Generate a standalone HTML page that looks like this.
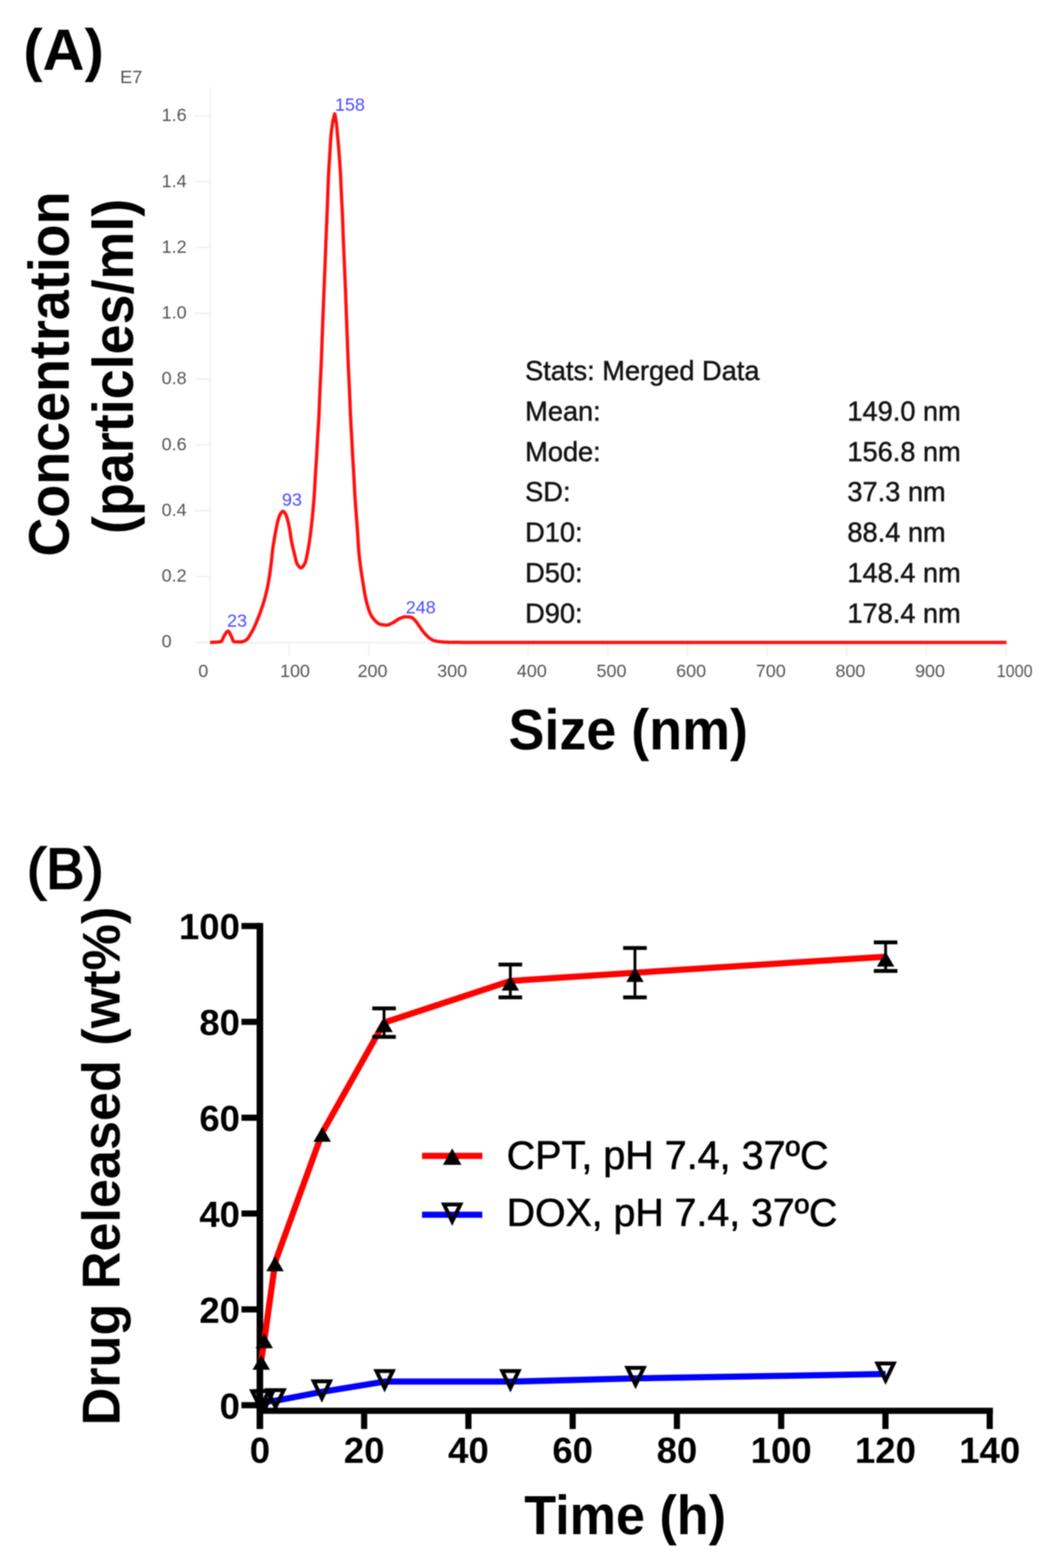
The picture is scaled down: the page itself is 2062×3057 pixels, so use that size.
<!DOCTYPE html>
<html><head><meta charset="utf-8"><title>Figure</title>
<style>
html,body{margin:0;padding:0;background:#fff;}
body{width:2062px;height:3057px;overflow:hidden;}
svg{display:block;filter:blur(1.2px);}
</style></head>
<body>
<svg width="2062" height="3057" viewBox="0 0 2062 3057">
<rect width="2062" height="3057" fill="#fff"/>
<g fill="none" stroke="#f3f3f3" stroke-width="3.5">
<line x1="410" y1="169" x2="410" y2="1280"/>
<line x1="380" y1="1252.0" x2="410" y2="1252.0"/>
<line x1="380" y1="1123.8" x2="410" y2="1123.8"/>
<line x1="380" y1="995.5" x2="410" y2="995.5"/>
<line x1="380" y1="867.2" x2="410" y2="867.2"/>
<line x1="380" y1="739.0" x2="410" y2="739.0"/>
<line x1="380" y1="610.8" x2="410" y2="610.8"/>
<line x1="380" y1="482.5" x2="410" y2="482.5"/>
<line x1="380" y1="354.2" x2="410" y2="354.2"/>
<line x1="380" y1="226.0" x2="410" y2="226.0"/>
<line x1="380" y1="1253" x2="1962" y2="1253"/>
<line x1="563.7" y1="1253" x2="563.7" y2="1279"/>
<line x1="718.9" y1="1253" x2="718.9" y2="1279"/>
<line x1="874.1" y1="1253" x2="874.1" y2="1279"/>
<line x1="1029.3" y1="1253" x2="1029.3" y2="1279"/>
<line x1="1184.6" y1="1253" x2="1184.6" y2="1279"/>
<line x1="1339.8" y1="1253" x2="1339.8" y2="1279"/>
<line x1="1495.0" y1="1253" x2="1495.0" y2="1279"/>
<line x1="1650.2" y1="1253" x2="1650.2" y2="1279"/>
<line x1="1805.4" y1="1253" x2="1805.4" y2="1279"/>
<line x1="1960.6" y1="1253" x2="1960.6" y2="1279"/>
</g>
<g font-family="Liberation Sans, Arial, sans-serif" font-size="35" fill="#555">
<text x="315" y="1262.3">0</text>
<text x="315" y="1134.0">0.2</text>
<text x="315" y="1005.8">0.4</text>
<text x="315" y="877.5">0.6</text>
<text x="315" y="749.3">0.8</text>
<text x="315" y="621.0">1.0</text>
<text x="315" y="492.8">1.2</text>
<text x="315" y="364.5">1.4</text>
<text x="315" y="236.3">1.6</text>
<text x="386.5" y="1320">0</text>
<text x="545.7" y="1320">100</text>
<text x="696.9" y="1320">200</text>
<text x="852.1" y="1320">300</text>
<text x="1007.3" y="1320">400</text>
<text x="1162.6" y="1320">500</text>
<text x="1317.8" y="1320">600</text>
<text x="1473.0" y="1320">700</text>
<text x="1628.2" y="1320">800</text>
<text x="1783.4" y="1320">900</text>
<text x="1942.6" y="1320" textLength="70" lengthAdjust="spacingAndGlyphs">1000</text>
<text x="234" y="162" font-size="35.5">E7</text>
</g>
<path d="M409.50,1252.40 L409.75,1252.40 L410.00,1252.40 L410.25,1252.40 L410.50,1252.39 L410.75,1252.39 L411.00,1252.39 L411.25,1252.38 L411.50,1252.38 L411.75,1252.37 L412.00,1252.37 L412.25,1252.36 L412.50,1252.35 L412.75,1252.35 L413.00,1252.34 L413.25,1252.33 L413.50,1252.32 L413.75,1252.31 L414.00,1252.30 L414.25,1252.29 L414.50,1252.28 L414.75,1252.27 L415.00,1252.26 L415.25,1252.25 L415.50,1252.24 L415.75,1252.23 L416.00,1252.22 L416.25,1252.20 L416.50,1252.19 L416.75,1252.18 L417.00,1252.17 L417.25,1252.15 L417.50,1252.14 L417.75,1252.13 L418.00,1252.11 L418.25,1252.10 L418.50,1252.08 L418.75,1252.07 L419.00,1252.06 L419.25,1252.04 L419.50,1252.03 L419.75,1252.01 L420.00,1252.00 L420.25,1251.99 L420.50,1251.97 L420.75,1251.96 L421.00,1251.94 L421.25,1251.93 L421.50,1251.91 L421.75,1251.90 L422.00,1251.88 L422.25,1251.87 L422.50,1251.85 L422.75,1251.83 L423.00,1251.82 L423.25,1251.80 L423.50,1251.78 L423.75,1251.76 L424.00,1251.74 L424.25,1251.72 L424.50,1251.70 L424.75,1251.68 L425.00,1251.65 L425.25,1251.63 L425.50,1251.61 L425.75,1251.58 L426.00,1251.55 L426.25,1251.52 L426.50,1251.49 L426.75,1251.46 L427.00,1251.43 L427.25,1251.40 L427.50,1251.36 L427.75,1251.33 L428.00,1251.29 L428.25,1251.25 L428.50,1251.21 L428.75,1251.17 L429.00,1251.12 L429.25,1251.08 L429.50,1251.03 L429.75,1250.98 L430.00,1250.93 L430.25,1250.88 L430.50,1250.82 L430.75,1250.75 L431.00,1250.63 L431.25,1250.45 L431.50,1250.22 L431.75,1249.94 L432.00,1249.61 L432.25,1249.25 L432.50,1248.84 L432.75,1248.40 L433.00,1247.94 L433.25,1247.44 L433.50,1246.92 L433.75,1246.39 L434.00,1245.83 L434.25,1245.27 L434.50,1244.70 L434.75,1244.12 L435.00,1243.55 L435.25,1242.98 L435.50,1242.41 L435.75,1241.86 L436.00,1241.32 L436.25,1240.80 L436.50,1240.30 L436.75,1239.83 L437.00,1239.38 L437.25,1238.97 L437.50,1238.60 L437.75,1238.24 L438.00,1237.87 L438.25,1237.49 L438.50,1237.11 L438.75,1236.72 L439.00,1236.32 L439.25,1235.93 L439.50,1235.53 L439.75,1235.14 L440.00,1234.75 L440.25,1234.36 L440.50,1233.99 L440.75,1233.62 L441.00,1233.26 L441.25,1232.92 L441.50,1232.59 L441.75,1232.28 L442.00,1231.99 L442.25,1231.72 L442.50,1231.47 L442.75,1231.24 L443.00,1231.05 L443.25,1230.87 L443.50,1230.73 L443.75,1230.62 L444.00,1230.55 L444.25,1230.51 L444.50,1230.50 L444.75,1230.55 L445.00,1230.65 L445.25,1230.79 L445.50,1230.97 L445.75,1231.20 L446.00,1231.47 L446.25,1231.77 L446.50,1232.10 L446.75,1232.47 L447.00,1232.87 L447.25,1233.29 L447.50,1233.73 L447.75,1234.20 L448.00,1234.69 L448.25,1235.19 L448.50,1235.70 L448.75,1236.22 L449.00,1236.76 L449.25,1237.30 L449.50,1237.84 L449.75,1238.38 L450.00,1238.92 L450.25,1239.46 L450.50,1239.99 L450.75,1240.50 L451.00,1241.01 L451.25,1241.50 L451.50,1242.01 L451.75,1242.59 L452.00,1243.23 L452.25,1243.92 L452.50,1244.64 L452.75,1245.37 L453.00,1246.10 L453.25,1246.83 L453.50,1247.52 L453.75,1248.17 L454.00,1248.76 L454.25,1249.28 L454.50,1249.71 L454.75,1250.04 L455.00,1250.25 L455.25,1250.36 L455.50,1250.45 L455.75,1250.53 L456.00,1250.62 L456.25,1250.70 L456.50,1250.78 L456.75,1250.85 L457.00,1250.92 L457.25,1250.99 L457.50,1251.05 L457.75,1251.11 L458.00,1251.17 L458.25,1251.22 L458.50,1251.27 L458.75,1251.31 L459.00,1251.36 L459.25,1251.40 L459.50,1251.43 L459.75,1251.46 L460.00,1251.49 L460.25,1251.52 L460.50,1251.54 L460.75,1251.56 L461.00,1251.57 L461.25,1251.58 L461.50,1251.59 L461.75,1251.60 L462.00,1251.60 L462.25,1251.60 L462.50,1251.60 L462.75,1251.60 L463.00,1251.60 L463.25,1251.59 L463.50,1251.59 L463.75,1251.59 L464.00,1251.59 L464.25,1251.58 L464.50,1251.58 L464.75,1251.57 L465.00,1251.57 L465.25,1251.56 L465.50,1251.56 L465.75,1251.55 L466.00,1251.55 L466.25,1251.54 L466.50,1251.53 L466.75,1251.52 L467.00,1251.52 L467.25,1251.51 L467.50,1251.50 L467.75,1251.49 L468.00,1251.48 L468.25,1251.47 L468.50,1251.46 L468.75,1251.45 L469.00,1251.44 L469.25,1251.43 L469.50,1251.42 L469.75,1251.41 L470.00,1251.40 L470.25,1251.39 L470.50,1251.37 L470.75,1251.34 L471.00,1251.31 L471.25,1251.27 L471.50,1251.23 L471.75,1251.18 L472.00,1251.13 L472.25,1251.08 L472.50,1251.02 L472.75,1250.95 L473.00,1250.88 L473.25,1250.80 L473.50,1250.73 L473.75,1250.64 L474.00,1250.56 L474.25,1250.46 L474.50,1250.37 L474.75,1250.27 L475.00,1250.17 L475.25,1250.06 L475.50,1249.95 L475.75,1249.84 L476.00,1249.73 L476.25,1249.61 L476.50,1249.49 L476.75,1249.36 L477.00,1249.24 L477.25,1249.11 L477.50,1248.98 L477.75,1248.85 L478.00,1248.71 L478.25,1248.57 L478.50,1248.43 L478.75,1248.29 L479.00,1248.15 L479.25,1248.00 L479.50,1247.86 L479.75,1247.71 L480.00,1247.54 L480.25,1247.36 L480.50,1247.17 L480.75,1246.95 L481.00,1246.73 L481.25,1246.49 L481.50,1246.24 L481.75,1245.97 L482.00,1245.69 L482.25,1245.41 L482.50,1245.11 L482.75,1244.79 L483.00,1244.47 L483.25,1244.14 L483.50,1243.80 L483.75,1243.46 L484.00,1243.10 L484.25,1242.74 L484.50,1242.37 L484.75,1241.99 L485.00,1241.61 L485.25,1241.23 L485.50,1240.84 L485.75,1240.44 L486.00,1240.04 L486.25,1239.64 L486.50,1239.24 L486.75,1238.83 L487.00,1238.42 L487.25,1238.02 L487.50,1237.61 L487.75,1237.20 L488.00,1236.79 L488.25,1236.39 L488.50,1235.98 L488.75,1235.58 L489.00,1235.18 L489.25,1234.77 L489.50,1234.35 L489.75,1233.93 L490.00,1233.50 L490.25,1233.06 L490.50,1232.62 L490.75,1232.17 L491.00,1231.72 L491.25,1231.25 L491.50,1230.79 L491.75,1230.32 L492.00,1229.84 L492.25,1229.36 L492.50,1228.87 L492.75,1228.37 L493.00,1227.88 L493.25,1227.38 L493.50,1226.87 L493.75,1226.36 L494.00,1225.84 L494.25,1225.33 L494.50,1224.80 L494.75,1224.28 L495.00,1223.75 L495.25,1223.22 L495.50,1222.68 L495.75,1222.14 L496.00,1221.60 L496.25,1221.06 L496.50,1220.51 L496.75,1219.97 L497.00,1219.42 L497.25,1218.86 L497.50,1218.31 L497.75,1217.76 L498.00,1217.20 L498.25,1216.64 L498.50,1216.08 L498.75,1215.51 L499.00,1214.93 L499.25,1214.35 L499.50,1213.77 L499.75,1213.18 L500.00,1212.59 L500.25,1211.99 L500.50,1211.38 L500.75,1210.78 L501.00,1210.17 L501.25,1209.55 L501.50,1208.93 L501.75,1208.31 L502.00,1207.68 L502.25,1207.05 L502.50,1206.42 L502.75,1205.78 L503.00,1205.14 L503.25,1204.49 L503.50,1203.84 L503.75,1203.19 L504.00,1202.54 L504.25,1201.88 L504.50,1201.22 L504.75,1200.56 L505.00,1199.89 L505.25,1199.22 L505.50,1198.55 L505.75,1197.88 L506.00,1197.20 L506.25,1196.52 L506.50,1195.84 L506.75,1195.16 L507.00,1194.47 L507.25,1193.79 L507.50,1193.10 L507.75,1192.41 L508.00,1191.72 L508.25,1191.03 L508.50,1190.34 L508.75,1189.65 L509.00,1188.95 L509.25,1188.25 L509.50,1187.54 L509.75,1186.84 L510.00,1186.12 L510.25,1185.41 L510.50,1184.69 L510.75,1183.96 L511.00,1183.23 L511.25,1182.49 L511.50,1181.75 L511.75,1181.00 L512.00,1180.24 L512.25,1179.48 L512.50,1178.71 L512.75,1177.93 L513.00,1177.14 L513.25,1176.34 L513.50,1175.54 L513.75,1174.73 L514.00,1173.90 L514.25,1173.07 L514.50,1172.23 L514.75,1171.37 L515.00,1170.51 L515.25,1169.63 L515.50,1168.75 L515.75,1167.86 L516.00,1166.95 L516.25,1166.03 L516.50,1165.11 L516.75,1164.17 L517.00,1163.22 L517.25,1162.26 L517.50,1161.28 L517.75,1160.30 L518.00,1159.30 L518.25,1158.29 L518.50,1157.26 L518.75,1156.22 L519.00,1155.17 L519.25,1154.11 L519.50,1153.03 L519.75,1151.93 L520.00,1150.82 L520.25,1149.70 L520.50,1148.56 L520.75,1147.40 L521.00,1146.23 L521.25,1145.03 L521.50,1143.81 L521.75,1142.56 L522.00,1141.28 L522.25,1139.98 L522.50,1138.66 L522.75,1137.31 L523.00,1135.93 L523.25,1134.53 L523.50,1133.10 L523.75,1131.65 L524.00,1130.18 L524.25,1128.68 L524.50,1127.16 L524.75,1125.61 L525.00,1124.04 L525.25,1122.43 L525.50,1120.79 L525.75,1119.12 L526.00,1117.41 L526.25,1115.67 L526.50,1113.89 L526.75,1112.09 L527.00,1110.25 L527.25,1108.38 L527.50,1106.49 L527.75,1104.56 L528.00,1102.61 L528.25,1100.62 L528.50,1098.61 L528.75,1096.55 L529.00,1094.36 L529.25,1092.07 L529.50,1089.69 L529.75,1087.25 L530.00,1084.79 L530.25,1082.32 L530.50,1079.89 L530.75,1077.51 L531.00,1075.21 L531.25,1073.02 L531.50,1070.97 L531.75,1069.07 L532.00,1067.25 L532.25,1065.48 L532.50,1063.78 L532.75,1062.12 L533.00,1060.51 L533.25,1058.93 L533.50,1057.39 L533.75,1055.87 L534.00,1054.37 L534.25,1052.89 L534.50,1051.41 L534.75,1049.95 L535.00,1048.51 L535.25,1047.09 L535.50,1045.69 L535.75,1044.30 L536.00,1042.93 L536.25,1041.58 L536.50,1040.24 L536.75,1038.92 L537.00,1037.61 L537.25,1036.32 L537.50,1035.03 L537.75,1033.76 L538.00,1032.50 L538.25,1031.24 L538.50,1030.00 L538.75,1028.75 L539.00,1027.49 L539.25,1026.22 L539.50,1024.96 L539.75,1023.70 L540.00,1022.45 L540.25,1021.23 L540.50,1020.03 L540.75,1018.87 L541.00,1017.75 L541.25,1016.67 L541.50,1015.65 L541.75,1014.69 L542.00,1013.80 L542.25,1012.95 L542.50,1012.11 L542.75,1011.28 L543.00,1010.47 L543.25,1009.69 L543.50,1008.92 L543.75,1008.18 L544.00,1007.46 L544.25,1006.78 L544.50,1006.12 L544.75,1005.50 L545.00,1004.92 L545.25,1004.37 L545.50,1003.87 L545.75,1003.41 L546.00,1003.00 L546.25,1002.61 L546.50,1002.22 L546.75,1001.84 L547.00,1001.45 L547.25,1001.08 L547.50,1000.71 L547.75,1000.34 L548.00,999.99 L548.25,999.65 L548.50,999.32 L548.75,999.01 L549.00,998.72 L549.25,998.44 L549.50,998.18 L549.75,997.94 L550.00,997.73 L550.25,997.54 L550.50,997.38 L550.75,997.24 L551.00,997.13 L551.25,997.06 L551.50,997.01 L551.75,997.00 L552.00,997.03 L552.25,997.10 L552.50,997.20 L552.75,997.34 L553.00,997.50 L553.25,997.70 L553.50,997.93 L553.75,998.18 L554.00,998.45 L554.25,998.75 L554.50,999.07 L554.75,999.40 L555.00,999.74 L555.25,1000.10 L555.50,1000.47 L555.75,1000.85 L556.00,1001.23 L556.25,1001.61 L556.50,1002.00 L556.75,1002.42 L557.00,1002.89 L557.25,1003.42 L557.50,1003.99 L557.75,1004.61 L558.00,1005.28 L558.25,1005.98 L558.50,1006.71 L558.75,1007.48 L559.00,1008.28 L559.25,1009.10 L559.50,1009.94 L559.75,1010.80 L560.00,1011.67 L560.25,1012.55 L560.50,1013.44 L560.75,1014.34 L561.00,1015.28 L561.25,1016.27 L561.50,1017.29 L561.75,1018.35 L562.00,1019.45 L562.25,1020.58 L562.50,1021.75 L562.75,1022.94 L563.00,1024.17 L563.25,1025.42 L563.50,1026.69 L563.75,1027.99 L564.00,1029.31 L564.25,1030.65 L564.50,1032.00 L564.75,1033.42 L565.00,1034.94 L565.25,1036.55 L565.50,1038.22 L565.75,1039.93 L566.00,1041.67 L566.25,1043.41 L566.50,1045.13 L566.75,1046.82 L567.00,1048.44 L567.25,1050.00 L567.50,1051.45 L567.75,1052.81 L568.00,1054.13 L568.25,1055.42 L568.50,1056.69 L568.75,1057.93 L569.00,1059.16 L569.25,1060.36 L569.50,1061.54 L569.75,1062.70 L570.00,1063.84 L570.25,1064.97 L570.50,1066.08 L570.75,1067.17 L571.00,1068.26 L571.25,1069.33 L571.50,1070.39 L571.75,1071.43 L572.00,1072.47 L572.25,1073.51 L572.50,1074.53 L572.75,1075.55 L573.00,1076.57 L573.25,1077.58 L573.50,1078.59 L573.75,1079.60 L574.00,1080.63 L574.25,1081.69 L574.50,1082.76 L574.75,1083.85 L575.00,1084.94 L575.25,1086.04 L575.50,1087.13 L575.75,1088.22 L576.00,1089.29 L576.25,1090.35 L576.50,1091.38 L576.75,1092.38 L577.00,1093.34 L577.25,1094.26 L577.50,1095.14 L577.75,1095.97 L578.00,1096.73 L578.25,1097.44 L578.50,1098.08 L578.75,1098.64 L579.00,1099.13 L579.25,1099.55 L579.50,1099.95 L579.75,1100.35 L580.00,1100.75 L580.25,1101.14 L580.50,1101.52 L580.75,1101.89 L581.00,1102.26 L581.25,1102.62 L581.50,1102.96 L581.75,1103.30 L582.00,1103.63 L582.25,1103.95 L582.50,1104.25 L582.75,1104.54 L583.00,1104.82 L583.25,1105.08 L583.50,1105.34 L583.75,1105.57 L584.00,1105.79 L584.25,1105.99 L584.50,1106.18 L584.75,1106.35 L585.00,1106.50 L585.25,1106.63 L585.50,1106.75 L585.75,1106.84 L586.00,1106.91 L586.25,1106.96 L586.50,1106.99 L586.75,1107.00 L587.00,1106.98 L587.25,1106.94 L587.50,1106.87 L587.75,1106.77 L588.00,1106.65 L588.25,1106.51 L588.50,1106.35 L588.75,1106.16 L589.00,1105.96 L589.25,1105.73 L589.50,1105.48 L589.75,1105.22 L590.00,1104.94 L590.25,1104.64 L590.50,1104.32 L590.75,1103.99 L591.00,1103.64 L591.25,1103.28 L591.50,1102.90 L591.75,1102.52 L592.00,1102.12 L592.25,1101.70 L592.50,1101.28 L592.75,1100.85 L593.00,1100.41 L593.25,1099.96 L593.50,1099.50 L593.75,1099.04 L594.00,1098.56 L594.25,1098.09 L594.50,1097.60 L594.75,1097.05 L595.00,1096.41 L595.25,1095.71 L595.50,1094.93 L595.75,1094.09 L596.00,1093.19 L596.25,1092.24 L596.50,1091.23 L596.75,1090.18 L597.00,1089.09 L597.25,1087.96 L597.50,1086.80 L597.75,1085.61 L598.00,1084.40 L598.25,1083.16 L598.50,1081.92 L598.75,1080.66 L599.00,1079.40 L599.09,1078.90 L599.19,1078.40 L599.28,1077.90 L599.37,1077.40 L599.46,1076.90 L599.55,1076.40 L599.65,1075.90 L599.74,1075.40 L599.83,1074.90 L599.92,1074.40 L600.01,1073.90 L600.10,1073.40 L600.19,1072.90 L600.28,1072.40 L600.37,1071.90 L600.45,1071.40 L600.54,1070.90 L600.63,1070.40 L600.72,1069.90 L600.80,1069.40 L600.89,1068.90 L600.98,1068.40 L601.06,1067.90 L601.15,1067.40 L601.23,1066.90 L601.32,1066.40 L601.40,1065.90 L601.49,1065.40 L601.57,1064.90 L601.65,1064.40 L601.73,1063.90 L601.82,1063.40 L601.90,1062.90 L601.98,1062.40 L602.06,1061.90 L602.14,1061.40 L602.22,1060.90 L602.30,1060.40 L602.38,1059.90 L602.46,1059.40 L602.54,1058.90 L602.62,1058.40 L602.69,1057.90 L602.77,1057.40 L602.85,1056.90 L602.92,1056.40 L603.00,1055.90 L603.07,1055.40 L603.15,1054.90 L603.22,1054.40 L603.30,1053.90 L603.37,1053.40 L603.44,1052.90 L603.51,1052.40 L603.59,1051.90 L603.66,1051.40 L603.73,1050.90 L603.80,1050.40 L603.87,1049.90 L603.94,1049.40 L604.01,1048.90 L604.08,1048.40 L604.14,1047.90 L604.21,1047.40 L604.28,1046.90 L604.35,1046.40 L604.41,1045.90 L604.48,1045.40 L604.55,1044.90 L604.61,1044.40 L604.68,1043.90 L604.74,1043.40 L604.81,1042.90 L604.87,1042.40 L604.94,1041.90 L605.00,1041.40 L605.07,1040.90 L605.13,1040.40 L605.19,1039.90 L605.26,1039.40 L605.32,1038.90 L605.38,1038.40 L605.44,1037.90 L605.50,1037.40 L605.57,1036.90 L605.63,1036.40 L605.69,1035.90 L605.75,1035.40 L605.81,1034.90 L605.87,1034.40 L605.93,1033.90 L605.99,1033.40 L606.05,1032.90 L606.11,1032.40 L606.17,1031.90 L606.23,1031.40 L606.29,1030.90 L606.35,1030.40 L606.40,1029.90 L606.46,1029.40 L606.52,1028.90 L606.58,1028.40 L606.64,1027.90 L606.69,1027.40 L606.75,1026.90 L606.81,1026.40 L606.87,1025.90 L606.92,1025.40 L606.98,1024.90 L607.04,1024.40 L607.09,1023.90 L607.15,1023.40 L607.21,1022.90 L607.26,1022.40 L607.32,1021.90 L607.38,1021.40 L607.43,1020.90 L607.49,1020.40 L607.55,1019.90 L607.60,1019.40 L607.66,1018.90 L607.71,1018.40 L607.77,1017.90 L607.82,1017.40 L607.88,1016.90 L607.93,1016.40 L607.99,1015.90 L608.04,1015.40 L608.09,1014.90 L608.15,1014.40 L608.20,1013.90 L608.25,1013.40 L608.31,1012.90 L608.36,1012.40 L608.41,1011.90 L608.47,1011.40 L608.52,1010.90 L608.57,1010.40 L608.62,1009.90 L608.67,1009.40 L608.72,1008.90 L608.77,1008.40 L608.82,1007.90 L608.87,1007.40 L608.92,1006.90 L608.97,1006.40 L609.02,1005.90 L609.07,1005.40 L609.12,1004.90 L609.17,1004.40 L609.21,1003.90 L609.26,1003.40 L609.31,1002.90 L609.36,1002.40 L609.40,1001.90 L609.45,1001.40 L609.50,1000.90 L609.54,1000.40 L609.59,999.90 L609.64,999.40 L609.68,998.90 L609.73,998.40 L609.78,997.90 L609.82,997.40 L609.87,996.90 L609.91,996.40 L609.96,995.90 L610.01,995.40 L610.05,994.90 L610.10,994.40 L610.14,993.90 L610.19,993.40 L610.23,992.90 L610.28,992.40 L610.32,991.90 L610.37,991.40 L610.41,990.90 L610.46,990.40 L610.50,989.90 L610.55,989.40 L610.59,988.90 L610.63,988.40 L610.68,987.90 L610.72,987.40 L610.77,986.90 L610.81,986.40 L610.85,985.90 L610.90,985.40 L610.94,984.90 L610.98,984.40 L611.02,983.90 L611.07,983.40 L611.11,982.90 L611.15,982.40 L611.19,981.90 L611.23,981.40 L611.28,980.90 L611.32,980.40 L611.36,979.90 L611.40,979.40 L611.44,978.90 L611.48,978.40 L611.52,977.90 L611.56,977.40 L611.60,976.90 L611.64,976.40 L611.68,975.90 L611.72,975.40 L611.76,974.90 L611.80,974.40 L611.84,973.90 L611.88,973.40 L611.91,972.90 L611.95,972.40 L611.99,971.90 L612.03,971.40 L612.06,970.90 L612.10,970.40 L612.14,969.90 L612.18,969.40 L612.21,968.90 L612.25,968.40 L612.28,967.90 L612.32,967.40 L612.35,966.90 L612.39,966.40 L612.42,965.90 L612.46,965.40 L612.49,964.90 L612.53,964.40 L612.56,963.90 L612.59,963.40 L612.63,962.90 L612.66,962.40 L612.69,961.90 L612.72,961.40 L612.76,960.90 L612.79,960.40 L612.82,959.90 L612.85,959.40 L612.88,958.90 L612.91,958.40 L612.94,957.90 L612.97,957.40 L613.00,956.90 L613.03,956.40 L613.06,955.90 L613.09,955.40 L613.12,954.90 L613.15,954.40 L613.18,953.90 L613.21,953.40 L613.24,952.90 L613.26,952.40 L613.29,951.90 L613.32,951.40 L613.35,950.90 L613.38,950.40 L613.40,949.90 L613.43,949.40 L613.46,948.90 L613.49,948.40 L613.51,947.90 L613.54,947.40 L613.57,946.90 L613.59,946.40 L613.62,945.90 L613.65,945.40 L613.67,944.90 L613.70,944.40 L613.73,943.90 L613.76,943.40 L613.78,942.90 L613.81,942.40 L613.84,941.90 L613.86,941.40 L613.89,940.90 L613.92,940.40 L613.94,939.90 L613.97,939.40 L614.00,938.90 L614.02,938.40 L614.05,937.90 L614.08,937.40 L614.11,936.90 L614.13,936.40 L614.16,935.90 L614.19,935.40 L614.21,934.90 L614.24,934.40 L614.27,933.90 L614.30,933.40 L614.33,932.90 L614.35,932.40 L614.38,931.90 L614.41,931.40 L614.44,930.90 L614.47,930.40 L614.50,929.90 L614.53,929.40 L614.56,928.90 L614.59,928.40 L614.62,927.90 L614.65,927.40 L614.68,926.90 L614.71,926.40 L614.74,925.90 L614.77,925.40 L614.80,924.90 L614.83,924.40 L614.86,923.90 L614.89,923.40 L614.92,922.90 L614.96,922.40 L614.99,921.90 L615.02,921.40 L615.05,920.90 L615.08,920.40 L615.12,919.90 L615.15,919.40 L615.18,918.90 L615.22,918.40 L615.25,917.90 L615.28,917.40 L615.31,916.90 L615.35,916.40 L615.38,915.90 L615.41,915.40 L615.45,914.90 L615.48,914.40 L615.51,913.90 L615.55,913.40 L615.58,912.90 L615.62,912.40 L615.65,911.90 L615.68,911.40 L615.72,910.90 L615.75,910.40 L615.78,909.90 L615.82,909.40 L615.85,908.90 L615.89,908.40 L615.92,907.90 L615.95,907.40 L615.99,906.90 L616.02,906.40 L616.05,905.90 L616.09,905.40 L616.12,904.90 L616.16,904.40 L616.19,903.90 L616.22,903.40 L616.26,902.90 L616.29,902.40 L616.32,901.90 L616.36,901.40 L616.39,900.90 L616.42,900.40 L616.46,899.90 L616.49,899.40 L616.52,898.90 L616.55,898.40 L616.59,897.90 L616.62,897.40 L616.65,896.90 L616.68,896.40 L616.72,895.90 L616.75,895.40 L616.78,894.90 L616.81,894.40 L616.84,893.90 L616.87,893.40 L616.91,892.90 L616.94,892.40 L616.97,891.90 L617.00,891.40 L617.03,890.90 L617.06,890.40 L617.09,889.90 L617.12,889.40 L617.15,888.90 L617.18,888.40 L617.21,887.90 L617.23,887.40 L617.26,886.90 L617.29,886.40 L617.32,885.90 L617.35,885.40 L617.38,884.90 L617.40,884.40 L617.43,883.90 L617.46,883.40 L617.49,882.90 L617.51,882.40 L617.54,881.90 L617.57,881.40 L617.59,880.90 L617.62,880.40 L617.65,879.90 L617.67,879.40 L617.70,878.90 L617.73,878.40 L617.75,877.90 L617.78,877.40 L617.80,876.90 L617.83,876.40 L617.85,875.90 L617.88,875.40 L617.91,874.90 L617.93,874.40 L617.96,873.90 L617.98,873.40 L618.01,872.90 L618.03,872.40 L618.06,871.90 L618.08,871.40 L618.11,870.90 L618.13,870.40 L618.16,869.90 L618.18,869.40 L618.21,868.90 L618.23,868.40 L618.26,867.90 L618.28,867.40 L618.31,866.90 L618.33,866.40 L618.36,865.90 L618.38,865.40 L618.41,864.90 L618.43,864.40 L618.46,863.90 L618.48,863.40 L618.51,862.90 L618.53,862.40 L618.56,861.90 L618.59,861.40 L618.61,860.90 L618.64,860.40 L618.66,859.90 L618.69,859.40 L618.71,858.90 L618.74,858.40 L618.77,857.90 L618.79,857.40 L618.82,856.90 L618.85,856.40 L618.87,855.90 L618.90,855.40 L618.93,854.90 L618.95,854.40 L618.98,853.90 L619.01,853.40 L619.04,852.90 L619.06,852.40 L619.09,851.90 L619.12,851.40 L619.15,850.90 L619.18,850.40 L619.21,849.90 L619.23,849.40 L619.26,848.90 L619.29,848.40 L619.32,847.90 L619.35,847.40 L619.38,846.90 L619.42,846.40 L619.45,845.90 L619.48,845.40 L619.51,844.90 L619.54,844.40 L619.57,843.90 L619.61,843.40 L619.64,842.90 L619.67,842.40 L619.70,841.90 L619.74,841.40 L619.77,840.90 L619.80,840.40 L619.84,839.90 L619.87,839.40 L619.90,838.90 L619.94,838.40 L619.97,837.90 L620.00,837.40 L620.04,836.90 L620.07,836.40 L620.11,835.90 L620.14,835.40 L620.17,834.90 L620.21,834.40 L620.24,833.90 L620.28,833.40 L620.31,832.90 L620.34,832.40 L620.38,831.90 L620.41,831.40 L620.44,830.90 L620.48,830.40 L620.51,829.90 L620.54,829.40 L620.58,828.90 L620.61,828.40 L620.64,827.90 L620.67,827.40 L620.71,826.90 L620.74,826.40 L620.77,825.90 L620.80,825.40 L620.83,824.90 L620.86,824.40 L620.89,823.90 L620.92,823.40 L620.95,822.90 L620.98,822.40 L621.01,821.90 L621.04,821.40 L621.07,820.90 L621.10,820.40 L621.13,819.90 L621.16,819.40 L621.18,818.90 L621.21,818.40 L621.24,817.90 L621.26,817.40 L621.29,816.90 L621.32,816.40 L621.34,815.90 L621.37,815.40 L621.39,814.90 L621.41,814.40 L621.44,813.90 L621.46,813.40 L621.49,812.90 L621.51,812.40 L621.53,811.90 L621.56,811.40 L621.58,810.90 L621.60,810.40 L621.63,809.90 L621.65,809.40 L621.67,808.90 L621.70,808.40 L621.72,807.90 L621.74,807.40 L621.76,806.90 L621.78,806.40 L621.81,805.90 L621.83,805.40 L621.85,804.90 L621.87,804.40 L621.89,803.90 L621.91,803.40 L621.93,802.90 L621.95,802.40 L621.97,801.90 L622.00,801.40 L622.02,800.90 L622.04,800.40 L622.06,799.90 L622.08,799.40 L622.10,798.90 L622.12,798.40 L622.14,797.90 L622.16,797.40 L622.18,796.90 L622.20,796.40 L622.22,795.90 L622.24,795.40 L622.26,794.90 L622.28,794.40 L622.30,793.90 L622.31,793.40 L622.33,792.90 L622.35,792.40 L622.37,791.90 L622.39,791.40 L622.41,790.90 L622.43,790.40 L622.45,789.90 L622.47,789.40 L622.49,788.90 L622.51,788.40 L622.53,787.90 L622.54,787.40 L622.56,786.90 L622.58,786.40 L622.60,785.90 L622.62,785.40 L622.64,784.90 L622.66,784.40 L622.68,783.90 L622.70,783.40 L622.71,782.90 L622.73,782.40 L622.75,781.90 L622.77,781.40 L622.79,780.90 L622.81,780.40 L622.83,779.90 L622.85,779.40 L622.87,778.90 L622.89,778.40 L622.91,777.90 L622.92,777.40 L622.94,776.90 L622.96,776.40 L622.98,775.90 L623.00,775.40 L623.02,774.90 L623.04,774.40 L623.06,773.90 L623.08,773.40 L623.10,772.90 L623.12,772.40 L623.14,771.90 L623.16,771.40 L623.18,770.90 L623.20,770.40 L623.22,769.90 L623.24,769.40 L623.26,768.90 L623.28,768.40 L623.30,767.90 L623.32,767.40 L623.35,766.90 L623.37,766.40 L623.39,765.90 L623.41,765.40 L623.43,764.90 L623.45,764.40 L623.47,763.90 L623.50,763.40 L623.52,762.90 L623.54,762.40 L623.56,761.90 L623.58,761.40 L623.61,760.90 L623.63,760.40 L623.65,759.90 L623.67,759.40 L623.70,758.90 L623.72,758.40 L623.74,757.90 L623.77,757.40 L623.79,756.90 L623.81,756.40 L623.84,755.90 L623.86,755.40 L623.88,754.90 L623.91,754.40 L623.93,753.90 L623.95,753.40 L623.98,752.90 L624.00,752.40 L624.02,751.90 L624.05,751.40 L624.07,750.90 L624.09,750.40 L624.12,749.90 L624.14,749.40 L624.17,748.90 L624.19,748.40 L624.22,747.90 L624.24,747.40 L624.26,746.90 L624.29,746.40 L624.31,745.90 L624.34,745.40 L624.36,744.90 L624.39,744.40 L624.41,743.90 L624.43,743.40 L624.46,742.90 L624.48,742.40 L624.51,741.90 L624.53,741.40 L624.56,740.90 L624.58,740.40 L624.61,739.90 L624.63,739.40 L624.65,738.90 L624.68,738.40 L624.70,737.90 L624.73,737.40 L624.75,736.90 L624.78,736.40 L624.80,735.90 L624.83,735.40 L624.85,734.90 L624.87,734.40 L624.90,733.90 L624.92,733.40 L624.95,732.90 L624.97,732.40 L625.00,731.90 L625.02,731.40 L625.04,730.90 L625.07,730.40 L625.09,729.90 L625.12,729.40 L625.14,728.90 L625.17,728.40 L625.19,727.90 L625.21,727.40 L625.24,726.90 L625.26,726.40 L625.28,725.90 L625.31,725.40 L625.33,724.90 L625.36,724.40 L625.38,723.90 L625.40,723.40 L625.43,722.90 L625.45,722.40 L625.47,721.90 L625.50,721.40 L625.52,720.90 L625.54,720.40 L625.57,719.90 L625.59,719.40 L625.61,718.90 L625.63,718.40 L625.66,717.90 L625.68,717.40 L625.70,716.90 L625.72,716.40 L625.75,715.90 L625.77,715.40 L625.79,714.90 L625.81,714.40 L625.83,713.90 L625.86,713.40 L625.88,712.90 L625.90,712.40 L625.92,711.90 L625.94,711.40 L625.96,710.90 L625.98,710.40 L626.00,709.90 L626.02,709.40 L626.05,708.90 L626.07,708.40 L626.09,707.90 L626.11,707.40 L626.13,706.90 L626.15,706.40 L626.17,705.90 L626.19,705.40 L626.21,704.90 L626.23,704.40 L626.25,703.90 L626.27,703.40 L626.29,702.90 L626.31,702.40 L626.33,701.90 L626.35,701.40 L626.37,700.90 L626.39,700.40 L626.41,699.90 L626.43,699.40 L626.45,698.90 L626.46,698.40 L626.48,697.90 L626.50,697.40 L626.52,696.90 L626.54,696.40 L626.56,695.90 L626.58,695.40 L626.60,694.90 L626.62,694.40 L626.64,693.90 L626.66,693.40 L626.67,692.90 L626.69,692.40 L626.71,691.90 L626.73,691.40 L626.75,690.90 L626.77,690.40 L626.79,689.90 L626.81,689.40 L626.82,688.90 L626.84,688.40 L626.86,687.90 L626.88,687.40 L626.90,686.90 L626.92,686.40 L626.93,685.90 L626.95,685.40 L626.97,684.90 L626.99,684.40 L627.01,683.90 L627.03,683.40 L627.04,682.90 L627.06,682.40 L627.08,681.90 L627.10,681.40 L627.12,680.90 L627.14,680.40 L627.15,679.90 L627.17,679.40 L627.19,678.90 L627.21,678.40 L627.23,677.90 L627.24,677.40 L627.26,676.90 L627.28,676.40 L627.30,675.90 L627.32,675.40 L627.33,674.90 L627.35,674.40 L627.37,673.90 L627.39,673.40 L627.41,672.90 L627.42,672.40 L627.44,671.90 L627.46,671.40 L627.48,670.90 L627.50,670.40 L627.52,669.90 L627.53,669.40 L627.55,668.90 L627.57,668.40 L627.59,667.90 L627.61,667.40 L627.62,666.90 L627.64,666.40 L627.66,665.90 L627.68,665.40 L627.70,664.90 L627.72,664.40 L627.73,663.90 L627.75,663.40 L627.77,662.90 L627.79,662.40 L627.81,661.90 L627.83,661.40 L627.84,660.90 L627.86,660.40 L627.88,659.90 L627.90,659.40 L627.92,658.90 L627.94,658.40 L627.96,657.90 L627.97,657.40 L627.99,656.90 L628.01,656.40 L628.03,655.90 L628.05,655.40 L628.07,654.90 L628.09,654.40 L628.10,653.90 L628.12,653.40 L628.14,652.90 L628.16,652.40 L628.18,651.90 L628.20,651.40 L628.22,650.90 L628.24,650.40 L628.25,649.90 L628.27,649.40 L628.29,648.90 L628.31,648.40 L628.33,647.90 L628.35,647.40 L628.37,646.90 L628.38,646.40 L628.40,645.90 L628.42,645.40 L628.44,644.90 L628.46,644.40 L628.48,643.90 L628.50,643.40 L628.51,642.90 L628.53,642.40 L628.55,641.90 L628.57,641.40 L628.59,640.90 L628.61,640.40 L628.63,639.90 L628.64,639.40 L628.66,638.90 L628.68,638.40 L628.70,637.90 L628.72,637.40 L628.74,636.90 L628.76,636.40 L628.77,635.90 L628.79,635.40 L628.81,634.90 L628.83,634.40 L628.85,633.90 L628.87,633.40 L628.88,632.90 L628.90,632.40 L628.92,631.90 L628.94,631.40 L628.96,630.90 L628.98,630.40 L629.00,629.90 L629.01,629.40 L629.03,628.90 L629.05,628.40 L629.07,627.90 L629.09,627.40 L629.11,626.90 L629.13,626.40 L629.15,625.90 L629.16,625.40 L629.18,624.90 L629.20,624.40 L629.22,623.90 L629.24,623.40 L629.26,622.90 L629.28,622.40 L629.29,621.90 L629.31,621.40 L629.33,620.90 L629.35,620.40 L629.37,619.90 L629.39,619.40 L629.41,618.90 L629.43,618.40 L629.44,617.90 L629.46,617.40 L629.48,616.90 L629.50,616.40 L629.52,615.90 L629.54,615.40 L629.56,614.90 L629.58,614.40 L629.60,613.90 L629.61,613.40 L629.63,612.90 L629.65,612.40 L629.67,611.90 L629.69,611.40 L629.71,610.90 L629.73,610.40 L629.75,609.90 L629.77,609.40 L629.79,608.90 L629.80,608.40 L629.82,607.90 L629.84,607.40 L629.86,606.90 L629.88,606.40 L629.90,605.90 L629.92,605.40 L629.94,604.90 L629.96,604.40 L629.98,603.90 L630.00,603.40 L630.02,602.90 L630.03,602.40 L630.05,601.90 L630.07,601.40 L630.09,600.90 L630.11,600.40 L630.13,599.90 L630.15,599.40 L630.17,598.90 L630.19,598.40 L630.21,597.90 L630.23,597.40 L630.25,596.90 L630.27,596.40 L630.29,595.90 L630.31,595.40 L630.33,594.90 L630.35,594.40 L630.37,593.90 L630.39,593.40 L630.41,592.90 L630.43,592.40 L630.44,591.90 L630.46,591.40 L630.48,590.90 L630.50,590.40 L630.52,589.90 L630.54,589.40 L630.56,588.90 L630.58,588.40 L630.60,587.90 L630.62,587.40 L630.64,586.90 L630.66,586.40 L630.68,585.90 L630.70,585.40 L630.72,584.90 L630.74,584.40 L630.76,583.90 L630.78,583.40 L630.80,582.90 L630.82,582.40 L630.84,581.90 L630.86,581.40 L630.88,580.90 L630.90,580.40 L630.92,579.90 L630.94,579.40 L630.96,578.90 L630.98,578.40 L631.00,577.90 L631.02,577.40 L631.04,576.90 L631.06,576.40 L631.08,575.90 L631.10,575.40 L631.12,574.90 L631.14,574.40 L631.16,573.90 L631.18,573.40 L631.20,572.90 L631.22,572.40 L631.24,571.90 L631.26,571.40 L631.28,570.90 L631.30,570.40 L631.32,569.90 L631.34,569.40 L631.36,568.90 L631.38,568.40 L631.40,567.90 L631.42,567.40 L631.44,566.90 L631.46,566.40 L631.48,565.90 L631.50,565.40 L631.52,564.90 L631.54,564.40 L631.56,563.90 L631.58,563.40 L631.60,562.90 L631.62,562.40 L631.64,561.90 L631.66,561.40 L631.68,560.90 L631.70,560.40 L631.72,559.90 L631.74,559.40 L631.76,558.90 L631.78,558.40 L631.80,557.90 L631.82,557.40 L631.84,556.90 L631.86,556.40 L631.88,555.90 L631.90,555.40 L631.92,554.90 L631.94,554.40 L631.96,553.90 L631.98,553.40 L632.00,552.90 L632.02,552.40 L632.04,551.90 L632.06,551.40 L632.08,550.90 L632.10,550.40 L632.12,549.90 L632.14,549.40 L632.16,548.90 L632.18,548.40 L632.20,547.90 L632.23,547.40 L632.25,546.90 L632.27,546.40 L632.29,545.90 L632.31,545.40 L632.33,544.90 L632.35,544.40 L632.37,543.90 L632.39,543.40 L632.41,542.90 L632.43,542.40 L632.45,541.90 L632.47,541.40 L632.49,540.90 L632.51,540.40 L632.53,539.90 L632.55,539.40 L632.57,538.90 L632.59,538.40 L632.61,537.90 L632.63,537.40 L632.65,536.90 L632.67,536.40 L632.69,535.90 L632.71,535.40 L632.73,534.90 L632.75,534.40 L632.77,533.90 L632.79,533.40 L632.81,532.90 L632.83,532.40 L632.85,531.90 L632.88,531.40 L632.90,530.90 L632.92,530.40 L632.94,529.90 L632.96,529.40 L632.98,528.90 L633.00,528.40 L633.02,527.90 L633.04,527.40 L633.06,526.90 L633.08,526.40 L633.10,525.90 L633.12,525.40 L633.14,524.90 L633.16,524.40 L633.18,523.90 L633.20,523.40 L633.22,522.90 L633.24,522.40 L633.26,521.90 L633.28,521.40 L633.30,520.90 L633.32,520.40 L633.34,519.90 L633.36,519.40 L633.38,518.90 L633.40,518.40 L633.42,517.90 L633.44,517.40 L633.46,516.90 L633.48,516.40 L633.50,515.90 L633.52,515.40 L633.54,514.90 L633.56,514.40 L633.58,513.90 L633.60,513.40 L633.62,512.90 L633.64,512.40 L633.66,511.90 L633.68,511.40 L633.70,510.90 L633.72,510.40 L633.74,509.90 L633.76,509.40 L633.78,508.90 L633.80,508.40 L633.82,507.90 L633.84,507.40 L633.86,506.90 L633.88,506.40 L633.90,505.90 L633.92,505.40 L633.94,504.90 L633.96,504.40 L633.98,503.90 L634.00,503.40 L634.02,502.90 L634.03,502.40 L634.05,501.90 L634.07,501.40 L634.09,500.90 L634.11,500.40 L634.13,499.90 L634.15,499.40 L634.17,498.90 L634.19,498.40 L634.21,497.90 L634.22,497.40 L634.24,496.90 L634.26,496.40 L634.28,495.90 L634.30,495.40 L634.32,494.90 L634.34,494.40 L634.36,493.90 L634.37,493.40 L634.39,492.90 L634.41,492.40 L634.43,491.90 L634.45,491.40 L634.47,490.90 L634.48,490.40 L634.50,489.90 L634.52,489.40 L634.54,488.90 L634.56,488.40 L634.58,487.90 L634.59,487.40 L634.61,486.90 L634.63,486.40 L634.65,485.90 L634.67,485.40 L634.69,484.90 L634.70,484.40 L634.72,483.90 L634.74,483.40 L634.76,482.90 L634.78,482.40 L634.80,481.90 L634.81,481.40 L634.83,480.90 L634.85,480.40 L634.87,479.90 L634.89,479.40 L634.91,478.90 L634.92,478.40 L634.94,477.90 L634.96,477.40 L634.98,476.90 L635.00,476.40 L635.02,475.90 L635.04,475.40 L635.05,474.90 L635.07,474.40 L635.09,473.90 L635.11,473.40 L635.13,472.90 L635.15,472.40 L635.17,471.90 L635.19,471.40 L635.20,470.90 L635.22,470.40 L635.24,469.90 L635.26,469.40 L635.28,468.90 L635.30,468.40 L635.32,467.90 L635.34,467.40 L635.36,466.90 L635.38,466.40 L635.40,465.90 L635.42,465.40 L635.44,464.90 L635.46,464.40 L635.48,463.90 L635.50,463.40 L635.52,462.90 L635.54,462.40 L635.56,461.90 L635.58,461.40 L635.60,460.90 L635.62,460.40 L635.64,459.90 L635.66,459.40 L635.68,458.90 L635.70,458.40 L635.72,457.90 L635.74,457.40 L635.76,456.90 L635.78,456.40 L635.80,455.90 L635.83,455.40 L635.85,454.90 L635.87,454.40 L635.89,453.90 L635.91,453.40 L635.93,452.90 L635.95,452.40 L635.98,451.90 L636.00,451.40 L636.02,450.90 L636.04,450.40 L636.06,449.90 L636.08,449.40 L636.11,448.90 L636.13,448.40 L636.15,447.90 L636.17,447.40 L636.19,446.90 L636.21,446.40 L636.24,445.90 L636.26,445.40 L636.28,444.90 L636.30,444.40 L636.32,443.90 L636.35,443.40 L636.37,442.90 L636.39,442.40 L636.41,441.90 L636.43,441.40 L636.46,440.90 L636.48,440.40 L636.50,439.90 L636.52,439.40 L636.54,438.90 L636.56,438.40 L636.59,437.90 L636.61,437.40 L636.63,436.90 L636.65,436.40 L636.67,435.90 L636.69,435.40 L636.72,434.90 L636.74,434.40 L636.76,433.90 L636.78,433.40 L636.80,432.90 L636.82,432.40 L636.84,431.90 L636.87,431.40 L636.89,430.90 L636.91,430.40 L636.93,429.90 L636.95,429.40 L636.97,428.90 L636.99,428.40 L637.01,427.90 L637.03,427.40 L637.05,426.90 L637.07,426.40 L637.10,425.90 L637.12,425.40 L637.14,424.90 L637.16,424.40 L637.18,423.90 L637.20,423.40 L637.22,422.90 L637.24,422.40 L637.26,421.90 L637.28,421.40 L637.29,420.90 L637.31,420.40 L637.33,419.90 L637.35,419.40 L637.37,418.90 L637.39,418.40 L637.41,417.90 L637.43,417.40 L637.45,416.90 L637.47,416.40 L637.49,415.90 L637.51,415.40 L637.53,414.90 L637.55,414.40 L637.57,413.90 L637.58,413.40 L637.60,412.90 L637.62,412.40 L637.64,411.90 L637.66,411.40 L637.68,410.90 L637.70,410.40 L637.72,409.90 L637.74,409.40 L637.75,408.90 L637.77,408.40 L637.79,407.90 L637.81,407.40 L637.83,406.90 L637.85,406.40 L637.87,405.90 L637.88,405.40 L637.90,404.90 L637.92,404.40 L637.94,403.90 L637.96,403.40 L637.98,402.90 L637.99,402.40 L638.01,401.90 L638.03,401.40 L638.05,400.90 L638.07,400.40 L638.09,399.90 L638.11,399.40 L638.12,398.90 L638.14,398.40 L638.16,397.90 L638.18,397.40 L638.20,396.90 L638.22,396.40 L638.23,395.90 L638.25,395.40 L638.27,394.90 L638.29,394.40 L638.31,393.90 L638.33,393.40 L638.34,392.90 L638.36,392.40 L638.38,391.90 L638.40,391.40 L638.42,390.90 L638.44,390.40 L638.45,389.90 L638.47,389.40 L638.49,388.90 L638.51,388.40 L638.53,387.90 L638.55,387.40 L638.57,386.90 L638.58,386.40 L638.60,385.90 L638.62,385.40 L638.64,384.90 L638.66,384.40 L638.68,383.90 L638.70,383.40 L638.71,382.90 L638.73,382.40 L638.75,381.90 L638.77,381.40 L638.79,380.90 L638.81,380.40 L638.83,379.90 L638.84,379.40 L638.86,378.90 L638.88,378.40 L638.90,377.90 L638.91,377.40 L638.93,376.90 L638.95,376.40 L638.97,375.90 L638.99,375.40 L639.00,374.90 L639.02,374.40 L639.04,373.90 L639.06,373.40 L639.07,372.90 L639.09,372.40 L639.11,371.90 L639.12,371.40 L639.14,370.90 L639.16,370.40 L639.18,369.90 L639.19,369.40 L639.21,368.90 L639.23,368.40 L639.25,367.90 L639.26,367.40 L639.28,366.90 L639.30,366.40 L639.32,365.90 L639.33,365.40 L639.35,364.90 L639.37,364.40 L639.39,363.90 L639.40,363.40 L639.42,362.90 L639.44,362.40 L639.46,361.90 L639.47,361.40 L639.49,360.90 L639.51,360.40 L639.53,359.90 L639.55,359.40 L639.56,358.90 L639.58,358.40 L639.60,357.90 L639.62,357.40 L639.64,356.90 L639.66,356.40 L639.68,355.90 L639.70,355.40 L639.71,354.90 L639.73,354.40 L639.75,353.90 L639.77,353.40 L639.79,352.90 L639.81,352.40 L639.83,351.90 L639.85,351.40 L639.87,350.90 L639.89,350.40 L639.91,349.90 L639.93,349.40 L639.95,348.90 L639.98,348.40 L640.00,347.90 L640.02,347.40 L640.04,346.90 L640.06,346.40 L640.08,345.90 L640.10,345.40 L640.13,344.90 L640.15,344.40 L640.17,343.90 L640.20,343.40 L640.22,342.90 L640.24,342.40 L640.27,341.90 L640.29,341.40 L640.31,340.90 L640.34,340.40 L640.36,339.90 L640.39,339.40 L640.41,338.90 L640.44,338.40 L640.47,337.90 L640.49,337.40 L640.52,336.90 L640.55,336.40 L640.57,335.90 L640.60,335.40 L640.63,334.90 L640.66,334.40 L640.68,333.90 L640.71,333.40 L640.74,332.90 L640.77,332.40 L640.80,331.90 L640.83,331.40 L640.86,330.90 L640.89,330.40 L640.91,329.90 L640.94,329.40 L640.97,328.90 L641.00,328.40 L641.03,327.90 L641.06,327.40 L641.10,326.90 L641.13,326.40 L641.16,325.90 L641.19,325.40 L641.22,324.90 L641.25,324.40 L641.28,323.90 L641.31,323.40 L641.34,322.90 L641.38,322.40 L641.41,321.90 L641.44,321.40 L641.47,320.90 L641.50,320.40 L641.53,319.90 L641.57,319.40 L641.60,318.90 L641.63,318.40 L641.66,317.90 L641.70,317.40 L641.73,316.90 L641.76,316.40 L641.79,315.90 L641.82,315.40 L641.86,314.90 L641.89,314.40 L641.92,313.90 L641.95,313.40 L641.99,312.90 L642.02,312.40 L642.05,311.90 L642.08,311.40 L642.12,310.90 L642.15,310.40 L642.18,309.90 L642.21,309.40 L642.24,308.90 L642.28,308.40 L642.31,307.90 L642.34,307.40 L642.37,306.90 L642.40,306.40 L642.44,305.90 L642.47,305.40 L642.50,304.90 L642.53,304.40 L642.56,303.90 L642.59,303.40 L642.62,302.90 L642.66,302.40 L642.69,301.90 L642.72,301.40 L642.75,300.90 L642.78,300.40 L642.81,299.90 L642.84,299.40 L642.87,298.90 L642.90,298.40 L642.93,297.90 L642.95,297.40 L642.98,296.90 L643.01,296.40 L643.04,295.90 L643.07,295.40 L643.10,294.90 L643.13,294.40 L643.16,293.90 L643.18,293.40 L643.21,292.90 L643.24,292.40 L643.27,291.90 L643.30,291.40 L643.33,290.90 L643.36,290.40 L643.38,289.90 L643.41,289.40 L643.44,288.90 L643.47,288.40 L643.50,287.90 L643.53,287.40 L643.56,286.90 L643.59,286.40 L643.61,285.90 L643.64,285.40 L643.67,284.90 L643.70,284.40 L643.73,283.90 L643.76,283.40 L643.79,282.90 L643.82,282.40 L643.85,281.90 L643.88,281.40 L643.91,280.90 L643.94,280.40 L643.97,279.90 L644.01,279.40 L644.04,278.90 L644.07,278.40 L644.10,277.90 L644.13,277.40 L644.17,276.90 L644.20,276.40 L644.23,275.90 L644.27,275.40 L644.30,274.90 L644.33,274.40 L644.37,273.90 L644.40,273.40 L644.44,272.90 L644.47,272.40 L644.51,271.90 L644.55,271.40 L644.58,270.90 L644.62,270.40 L644.66,269.90 L644.70,269.40 L644.73,268.90 L644.77,268.40 L644.81,267.90 L644.85,267.40 L644.89,266.90 L644.93,266.40 L644.98,265.90 L645.02,265.40 L645.06,264.90 L645.10,264.40 L645.15,263.90 L645.19,263.40 L645.24,262.90 L645.28,262.40 L645.33,261.90 L645.38,261.40 L645.42,260.90 L645.47,260.40 L645.52,259.90 L645.57,259.40 L645.63,258.90 L645.68,258.40 L645.73,257.90 L645.79,257.40 L645.84,256.90 L645.90,256.40 L645.96,255.90 L646.01,255.40 L646.07,254.90 L646.13,254.40 L646.19,253.90 L646.25,253.40 L646.32,252.90 L646.38,252.40 L646.44,251.90 L646.51,251.40 L646.57,250.90 L646.64,250.40 L646.71,249.90 L646.77,249.40 L646.84,248.90 L646.91,248.40 L646.98,247.90 L647.05,247.40 L647.13,246.90 L647.20,246.40 L647.27,245.90 L647.35,245.40 L647.42,244.90 L647.50,244.40 L647.57,243.90 L647.65,243.40 L647.73,242.90 L647.81,242.40 L647.89,241.90 L647.97,241.40 L648.05,240.90 L648.13,240.40 L648.22,239.90 L648.30,239.40 L648.39,238.90 L648.48,238.40 L648.57,237.90 L648.66,237.40 L648.76,236.90 L648.85,236.40 L648.95,235.90 L649.05,235.40 L649.16,234.90 L649.26,234.40 L649.37,233.90 L649.47,233.40 L649.58,232.90 L649.70,232.40 L649.81,231.90 L649.92,231.40 L650.04,230.90 L650.16,230.40 L650.27,229.90 L650.39,229.40 L650.52,228.90 L650.64,228.40 L650.76,227.90 L650.89,227.40 L651.01,226.90 L651.14,226.40 L651.27,225.90 L651.40,225.40 L651.53,224.90 L651.66,224.40 L651.79,223.90 L651.92,223.40 L652.06,222.90 L652.19,222.40 L652.30,222.00 L652.41,222.50 L652.52,223.00 L652.63,223.50 L652.74,224.00 L652.85,224.50 L652.95,225.00 L653.06,225.50 L653.17,226.00 L653.27,226.50 L653.37,227.00 L653.48,227.50 L653.58,228.00 L653.68,228.50 L653.78,229.00 L653.88,229.50 L653.97,230.00 L654.07,230.50 L654.17,231.00 L654.26,231.50 L654.35,232.00 L654.44,232.50 L654.53,233.00 L654.62,233.50 L654.70,234.00 L654.79,234.50 L654.87,235.00 L654.95,235.50 L655.03,236.00 L655.11,236.50 L655.18,237.00 L655.26,237.50 L655.33,238.00 L655.40,238.50 L655.47,239.00 L655.54,239.50 L655.60,240.00 L655.66,240.50 L655.72,241.00 L655.78,241.50 L655.84,242.00 L655.90,242.50 L655.96,243.00 L656.01,243.50 L656.07,244.00 L656.12,244.50 L656.17,245.00 L656.23,245.50 L656.28,246.00 L656.33,246.50 L656.38,247.00 L656.43,247.50 L656.47,248.00 L656.52,248.50 L656.57,249.00 L656.61,249.50 L656.66,250.00 L656.70,250.50 L656.75,251.00 L656.79,251.50 L656.84,252.00 L656.88,252.50 L656.92,253.00 L656.97,253.50 L657.01,254.00 L657.05,254.50 L657.09,255.00 L657.13,255.50 L657.18,256.00 L657.22,256.50 L657.26,257.00 L657.30,257.50 L657.34,258.00 L657.39,258.50 L657.43,259.00 L657.47,259.50 L657.51,260.00 L657.55,260.50 L657.60,261.00 L657.64,261.50 L657.68,262.00 L657.73,262.50 L657.77,263.00 L657.82,263.50 L657.86,264.00 L657.91,264.50 L657.95,265.00 L658.00,265.50 L658.04,266.00 L658.09,266.50 L658.13,267.00 L658.18,267.50 L658.22,268.00 L658.27,268.50 L658.31,269.00 L658.36,269.50 L658.40,270.00 L658.45,270.50 L658.49,271.00 L658.54,271.50 L658.58,272.00 L658.63,272.50 L658.67,273.00 L658.72,273.50 L658.76,274.00 L658.81,274.50 L658.85,275.00 L658.90,275.50 L658.94,276.00 L658.98,276.50 L659.03,277.00 L659.07,277.50 L659.12,278.00 L659.16,278.50 L659.21,279.00 L659.25,279.50 L659.29,280.00 L659.34,280.50 L659.38,281.00 L659.42,281.50 L659.47,282.00 L659.51,282.50 L659.56,283.00 L659.60,283.50 L659.64,284.00 L659.68,284.50 L659.73,285.00 L659.77,285.50 L659.81,286.00 L659.86,286.50 L659.90,287.00 L659.94,287.50 L659.98,288.00 L660.03,288.50 L660.07,289.00 L660.11,289.50 L660.15,290.00 L660.19,290.50 L660.23,291.00 L660.28,291.50 L660.32,292.00 L660.36,292.50 L660.40,293.00 L660.44,293.50 L660.48,294.00 L660.52,294.50 L660.56,295.00 L660.60,295.50 L660.64,296.00 L660.68,296.50 L660.72,297.00 L660.76,297.50 L660.80,298.00 L660.84,298.50 L660.88,299.00 L660.91,299.50 L660.95,300.00 L660.99,300.50 L661.03,301.00 L661.07,301.50 L661.10,302.00 L661.14,302.50 L661.18,303.00 L661.21,303.50 L661.25,304.00 L661.29,304.50 L661.32,305.00 L661.36,305.50 L661.40,306.00 L661.43,306.50 L661.47,307.00 L661.51,307.50 L661.54,308.00 L661.58,308.50 L661.62,309.00 L661.65,309.50 L661.69,310.00 L661.72,310.50 L661.76,311.00 L661.79,311.50 L661.83,312.00 L661.86,312.50 L661.90,313.00 L661.93,313.50 L661.97,314.00 L662.01,314.50 L662.04,315.00 L662.07,315.50 L662.11,316.00 L662.14,316.50 L662.18,317.00 L662.21,317.50 L662.25,318.00 L662.28,318.50 L662.31,319.00 L662.35,319.50 L662.38,320.00 L662.42,320.50 L662.45,321.00 L662.48,321.50 L662.52,322.00 L662.55,322.50 L662.58,323.00 L662.62,323.50 L662.65,324.00 L662.68,324.50 L662.71,325.00 L662.75,325.50 L662.78,326.00 L662.81,326.50 L662.84,327.00 L662.87,327.50 L662.91,328.00 L662.94,328.50 L662.97,329.00 L663.00,329.50 L663.03,330.00 L663.06,330.50 L663.09,331.00 L663.12,331.50 L663.15,332.00 L663.18,332.50 L663.21,333.00 L663.24,333.50 L663.27,334.00 L663.30,334.50 L663.33,335.00 L663.36,335.50 L663.39,336.00 L663.42,336.50 L663.45,337.00 L663.48,337.50 L663.51,338.00 L663.54,338.50 L663.56,339.00 L663.59,339.50 L663.62,340.00 L663.65,340.50 L663.68,341.00 L663.70,341.50 L663.73,342.00 L663.76,342.50 L663.78,343.00 L663.81,343.50 L663.84,344.00 L663.86,344.50 L663.89,345.00 L663.91,345.50 L663.94,346.00 L663.97,346.50 L663.99,347.00 L664.02,347.50 L664.04,348.00 L664.06,348.50 L664.09,349.00 L664.11,349.50 L664.14,350.00 L664.16,350.50 L664.18,351.00 L664.21,351.50 L664.23,352.00 L664.25,352.50 L664.28,353.00 L664.30,353.50 L664.32,354.00 L664.35,354.50 L664.37,355.00 L664.39,355.50 L664.41,356.00 L664.44,356.50 L664.46,357.00 L664.48,357.50 L664.50,358.00 L664.52,358.50 L664.55,359.00 L664.57,359.50 L664.59,360.00 L664.61,360.50 L664.63,361.00 L664.65,361.50 L664.67,362.00 L664.70,362.50 L664.72,363.00 L664.74,363.50 L664.76,364.00 L664.78,364.50 L664.80,365.00 L664.82,365.50 L664.84,366.00 L664.86,366.50 L664.89,367.00 L664.91,367.50 L664.93,368.00 L664.95,368.50 L664.97,369.00 L664.99,369.50 L665.01,370.00 L665.03,370.50 L665.05,371.00 L665.08,371.50 L665.10,372.00 L665.12,372.50 L665.14,373.00 L665.16,373.50 L665.18,374.00 L665.20,374.50 L665.23,375.00 L665.25,375.50 L665.27,376.00 L665.29,376.50 L665.31,377.00 L665.33,377.50 L665.36,378.00 L665.38,378.50 L665.40,379.00 L665.42,379.50 L665.45,380.00 L665.47,380.50 L665.49,381.00 L665.52,381.50 L665.54,382.00 L665.56,382.50 L665.59,383.00 L665.61,383.50 L665.63,384.00 L665.66,384.50 L665.68,385.00 L665.71,385.50 L665.73,386.00 L665.75,386.50 L665.78,387.00 L665.80,387.50 L665.83,388.00 L665.85,388.50 L665.88,389.00 L665.91,389.50 L665.93,390.00 L665.96,390.50 L665.98,391.00 L666.01,391.50 L666.03,392.00 L666.06,392.50 L666.09,393.00 L666.11,393.50 L666.14,394.00 L666.16,394.50 L666.19,395.00 L666.22,395.50 L666.24,396.00 L666.27,396.50 L666.30,397.00 L666.32,397.50 L666.35,398.00 L666.38,398.50 L666.40,399.00 L666.43,399.50 L666.46,400.00 L666.48,400.50 L666.51,401.00 L666.54,401.50 L666.56,402.00 L666.59,402.50 L666.62,403.00 L666.64,403.50 L666.67,404.00 L666.69,404.50 L666.72,405.00 L666.75,405.50 L666.77,406.00 L666.80,406.50 L666.83,407.00 L666.85,407.50 L666.88,408.00 L666.90,408.50 L666.93,409.00 L666.95,409.50 L666.98,410.00 L667.00,410.50 L667.03,411.00 L667.06,411.50 L667.08,412.00 L667.11,412.50 L667.13,413.00 L667.15,413.50 L667.18,414.00 L667.20,414.50 L667.23,415.00 L667.25,415.50 L667.28,416.00 L667.30,416.50 L667.32,417.00 L667.35,417.50 L667.37,418.00 L667.39,418.50 L667.41,419.00 L667.44,419.50 L667.46,420.00 L667.48,420.50 L667.50,421.00 L667.52,421.50 L667.55,422.00 L667.57,422.50 L667.59,423.00 L667.61,423.50 L667.63,424.00 L667.65,424.50 L667.67,425.00 L667.69,425.50 L667.71,426.00 L667.73,426.50 L667.75,427.00 L667.77,427.50 L667.79,428.00 L667.80,428.50 L667.82,429.00 L667.84,429.50 L667.86,430.00 L667.88,430.50 L667.90,431.00 L667.91,431.50 L667.93,432.00 L667.95,432.50 L667.97,433.00 L667.99,433.50 L668.00,434.00 L668.02,434.50 L668.04,435.00 L668.05,435.50 L668.07,436.00 L668.09,436.50 L668.11,437.00 L668.12,437.50 L668.14,438.00 L668.16,438.50 L668.17,439.00 L668.19,439.50 L668.21,440.00 L668.22,440.50 L668.24,441.00 L668.26,441.50 L668.27,442.00 L668.29,442.50 L668.30,443.00 L668.32,443.50 L668.34,444.00 L668.35,444.50 L668.37,445.00 L668.39,445.50 L668.40,446.00 L668.42,446.50 L668.43,447.00 L668.45,447.50 L668.47,448.00 L668.48,448.50 L668.50,449.00 L668.52,449.50 L668.53,450.00 L668.55,450.50 L668.57,451.00 L668.58,451.50 L668.60,452.00 L668.62,452.50 L668.63,453.00 L668.65,453.50 L668.67,454.00 L668.68,454.50 L668.70,455.00 L668.72,455.50 L668.73,456.00 L668.75,456.50 L668.77,457.00 L668.79,457.50 L668.80,458.00 L668.82,458.50 L668.84,459.00 L668.86,459.50 L668.88,460.00 L668.89,460.50 L668.91,461.00 L668.93,461.50 L668.95,462.00 L668.97,462.50 L668.99,463.00 L669.01,463.50 L669.03,464.00 L669.05,464.50 L669.07,465.00 L669.09,465.50 L669.11,466.00 L669.12,466.50 L669.14,467.00 L669.16,467.50 L669.18,468.00 L669.20,468.50 L669.23,469.00 L669.25,469.50 L669.27,470.00 L669.29,470.50 L669.31,471.00 L669.33,471.50 L669.35,472.00 L669.37,472.50 L669.39,473.00 L669.41,473.50 L669.43,474.00 L669.45,474.50 L669.47,475.00 L669.49,475.50 L669.52,476.00 L669.54,476.50 L669.56,477.00 L669.58,477.50 L669.60,478.00 L669.62,478.50 L669.64,479.00 L669.67,479.50 L669.69,480.00 L669.71,480.50 L669.73,481.00 L669.75,481.50 L669.77,482.00 L669.80,482.50 L669.82,483.00 L669.84,483.50 L669.86,484.00 L669.88,484.50 L669.90,485.00 L669.93,485.50 L669.95,486.00 L669.97,486.50 L669.99,487.00 L670.01,487.50 L670.04,488.00 L670.06,488.50 L670.08,489.00 L670.10,489.50 L670.12,490.00 L670.15,490.50 L670.17,491.00 L670.19,491.50 L670.21,492.00 L670.23,492.50 L670.25,493.00 L670.28,493.50 L670.30,494.00 L670.32,494.50 L670.34,495.00 L670.36,495.50 L670.39,496.00 L670.41,496.50 L670.43,497.00 L670.45,497.50 L670.47,498.00 L670.49,498.50 L670.52,499.00 L670.54,499.50 L670.56,500.00 L670.58,500.50 L670.60,501.00 L670.62,501.50 L670.64,502.00 L670.67,502.50 L670.69,503.00 L670.71,503.50 L670.73,504.00 L670.75,504.50 L670.77,505.00 L670.79,505.50 L670.81,506.00 L670.84,506.50 L670.86,507.00 L670.88,507.50 L670.90,508.00 L670.92,508.50 L670.94,509.00 L670.96,509.50 L670.99,510.00 L671.01,510.50 L671.03,511.00 L671.05,511.50 L671.07,512.00 L671.09,512.50 L671.11,513.00 L671.14,513.50 L671.16,514.00 L671.18,514.50 L671.20,515.00 L671.22,515.50 L671.24,516.00 L671.26,516.50 L671.29,517.00 L671.31,517.50 L671.33,518.00 L671.35,518.50 L671.37,519.00 L671.39,519.50 L671.42,520.00 L671.44,520.50 L671.46,521.00 L671.48,521.50 L671.50,522.00 L671.52,522.50 L671.54,523.00 L671.57,523.50 L671.59,524.00 L671.61,524.50 L671.63,525.00 L671.65,525.50 L671.67,526.00 L671.69,526.50 L671.72,527.00 L671.74,527.50 L671.76,528.00 L671.78,528.50 L671.80,529.00 L671.82,529.50 L671.84,530.00 L671.87,530.50 L671.89,531.00 L671.91,531.50 L671.93,532.00 L671.95,532.50 L671.97,533.00 L671.99,533.50 L672.01,534.00 L672.04,534.50 L672.06,535.00 L672.08,535.50 L672.10,536.00 L672.12,536.50 L672.14,537.00 L672.16,537.50 L672.18,538.00 L672.20,538.50 L672.23,539.00 L672.25,539.50 L672.27,540.00 L672.29,540.50 L672.31,541.00 L672.33,541.50 L672.35,542.00 L672.37,542.50 L672.39,543.00 L672.41,543.50 L672.43,544.00 L672.45,544.50 L672.48,545.00 L672.50,545.50 L672.52,546.00 L672.54,546.50 L672.56,547.00 L672.58,547.50 L672.60,548.00 L672.62,548.50 L672.64,549.00 L672.66,549.50 L672.68,550.00 L672.70,550.50 L672.72,551.00 L672.74,551.50 L672.76,552.00 L672.78,552.50 L672.80,553.00 L672.82,553.50 L672.84,554.00 L672.86,554.50 L672.88,555.00 L672.90,555.50 L672.92,556.00 L672.94,556.50 L672.96,557.00 L672.98,557.50 L673.00,558.00 L673.02,558.50 L673.04,559.00 L673.06,559.50 L673.08,560.00 L673.09,560.50 L673.11,561.00 L673.13,561.50 L673.15,562.00 L673.17,562.50 L673.19,563.00 L673.21,563.50 L673.23,564.00 L673.25,564.50 L673.27,565.00 L673.29,565.50 L673.31,566.00 L673.33,566.50 L673.34,567.00 L673.36,567.50 L673.38,568.00 L673.40,568.50 L673.42,569.00 L673.44,569.50 L673.46,570.00 L673.48,570.50 L673.50,571.00 L673.52,571.50 L673.53,572.00 L673.55,572.50 L673.57,573.00 L673.59,573.50 L673.61,574.00 L673.63,574.50 L673.65,575.00 L673.67,575.50 L673.68,576.00 L673.70,576.50 L673.72,577.00 L673.74,577.50 L673.76,578.00 L673.78,578.50 L673.80,579.00 L673.81,579.50 L673.83,580.00 L673.85,580.50 L673.87,581.00 L673.89,581.50 L673.91,582.00 L673.93,582.50 L673.94,583.00 L673.96,583.50 L673.98,584.00 L674.00,584.50 L674.02,585.00 L674.04,585.50 L674.06,586.00 L674.07,586.50 L674.09,587.00 L674.11,587.50 L674.13,588.00 L674.15,588.50 L674.17,589.00 L674.19,589.50 L674.20,590.00 L674.22,590.50 L674.24,591.00 L674.26,591.50 L674.28,592.00 L674.30,592.50 L674.32,593.00 L674.33,593.50 L674.35,594.00 L674.37,594.50 L674.39,595.00 L674.41,595.50 L674.43,596.00 L674.45,596.50 L674.46,597.00 L674.48,597.50 L674.50,598.00 L674.52,598.50 L674.54,599.00 L674.56,599.50 L674.58,600.00 L674.59,600.50 L674.61,601.00 L674.63,601.50 L674.65,602.00 L674.67,602.50 L674.69,603.00 L674.71,603.50 L674.73,604.00 L674.75,604.50 L674.76,605.00 L674.78,605.50 L674.80,606.00 L674.82,606.50 L674.84,607.00 L674.86,607.50 L674.88,608.00 L674.90,608.50 L674.91,609.00 L674.93,609.50 L674.95,610.00 L674.97,610.50 L674.99,611.00 L675.01,611.50 L675.03,612.00 L675.05,612.50 L675.06,613.00 L675.08,613.50 L675.10,614.00 L675.12,614.50 L675.14,615.00 L675.16,615.50 L675.18,616.00 L675.20,616.50 L675.21,617.00 L675.23,617.50 L675.25,618.00 L675.27,618.50 L675.29,619.00 L675.31,619.50 L675.33,620.00 L675.35,620.50 L675.36,621.00 L675.38,621.50 L675.40,622.00 L675.42,622.50 L675.44,623.00 L675.46,623.50 L675.48,624.00 L675.50,624.50 L675.51,625.00 L675.53,625.50 L675.55,626.00 L675.57,626.50 L675.59,627.00 L675.61,627.50 L675.63,628.00 L675.64,628.50 L675.66,629.00 L675.68,629.50 L675.70,630.00 L675.72,630.50 L675.74,631.00 L675.76,631.50 L675.78,632.00 L675.79,632.50 L675.81,633.00 L675.83,633.50 L675.85,634.00 L675.87,634.50 L675.89,635.00 L675.91,635.50 L675.93,636.00 L675.94,636.50 L675.96,637.00 L675.98,637.50 L676.00,638.00 L676.02,638.50 L676.04,639.00 L676.06,639.50 L676.07,640.00 L676.09,640.50 L676.11,641.00 L676.13,641.50 L676.15,642.00 L676.17,642.50 L676.19,643.00 L676.21,643.50 L676.22,644.00 L676.24,644.50 L676.26,645.00 L676.28,645.50 L676.30,646.00 L676.32,646.50 L676.34,647.00 L676.36,647.50 L676.37,648.00 L676.39,648.50 L676.41,649.00 L676.43,649.50 L676.45,650.00 L676.47,650.50 L676.49,651.00 L676.51,651.50 L676.52,652.00 L676.54,652.50 L676.56,653.00 L676.58,653.50 L676.60,654.00 L676.62,654.50 L676.64,655.00 L676.66,655.50 L676.67,656.00 L676.69,656.50 L676.71,657.00 L676.73,657.50 L676.75,658.00 L676.77,658.50 L676.79,659.00 L676.80,659.50 L676.82,660.00 L676.84,660.50 L676.86,661.00 L676.88,661.50 L676.90,662.00 L676.92,662.50 L676.93,663.00 L676.95,663.50 L676.97,664.00 L676.99,664.50 L677.01,665.00 L677.02,665.50 L677.04,666.00 L677.06,666.50 L677.08,667.00 L677.10,667.50 L677.12,668.00 L677.13,668.50 L677.15,669.00 L677.17,669.50 L677.19,670.00 L677.21,670.50 L677.22,671.00 L677.24,671.50 L677.26,672.00 L677.28,672.50 L677.30,673.00 L677.31,673.50 L677.33,674.00 L677.35,674.50 L677.37,675.00 L677.39,675.50 L677.41,676.00 L677.42,676.50 L677.44,677.00 L677.46,677.50 L677.48,678.00 L677.50,678.50 L677.51,679.00 L677.53,679.50 L677.55,680.00 L677.57,680.50 L677.59,681.00 L677.60,681.50 L677.62,682.00 L677.64,682.50 L677.66,683.00 L677.68,683.50 L677.70,684.00 L677.71,684.50 L677.73,685.00 L677.75,685.50 L677.77,686.00 L677.79,686.50 L677.81,687.00 L677.82,687.50 L677.84,688.00 L677.86,688.50 L677.88,689.00 L677.90,689.50 L677.92,690.00 L677.94,690.50 L677.95,691.00 L677.97,691.50 L677.99,692.00 L678.01,692.50 L678.03,693.00 L678.05,693.50 L678.07,694.00 L678.09,694.50 L678.10,695.00 L678.12,695.50 L678.14,696.00 L678.16,696.50 L678.18,697.00 L678.20,697.50 L678.22,698.00 L678.24,698.50 L678.26,699.00 L678.28,699.50 L678.30,700.00 L678.32,700.50 L678.34,701.00 L678.36,701.50 L678.38,702.00 L678.40,702.50 L678.42,703.00 L678.44,703.50 L678.46,704.00 L678.48,704.50 L678.50,705.00 L678.52,705.50 L678.54,706.00 L678.56,706.50 L678.58,707.00 L678.60,707.50 L678.62,708.00 L678.64,708.50 L678.66,709.00 L678.68,709.50 L678.70,710.00 L678.72,710.50 L678.74,711.00 L678.76,711.50 L678.78,712.00 L678.81,712.50 L678.83,713.00 L678.85,713.50 L678.87,714.00 L678.89,714.50 L678.91,715.00 L678.94,715.50 L678.96,716.00 L678.98,716.50 L679.00,717.00 L679.03,717.50 L679.05,718.00 L679.07,718.50 L679.09,719.00 L679.12,719.50 L679.14,720.00 L679.16,720.50 L679.19,721.00 L679.21,721.50 L679.23,722.00 L679.25,722.50 L679.28,723.00 L679.30,723.50 L679.33,724.00 L679.35,724.50 L679.37,725.00 L679.40,725.50 L679.42,726.00 L679.44,726.50 L679.47,727.00 L679.49,727.50 L679.52,728.00 L679.54,728.50 L679.56,729.00 L679.59,729.50 L679.61,730.00 L679.64,730.50 L679.66,731.00 L679.68,731.50 L679.71,732.00 L679.73,732.50 L679.76,733.00 L679.78,733.50 L679.81,734.00 L679.83,734.50 L679.85,735.00 L679.88,735.50 L679.90,736.00 L679.93,736.50 L679.95,737.00 L679.98,737.50 L680.00,738.00 L680.03,738.50 L680.05,739.00 L680.08,739.50 L680.10,740.00 L680.12,740.50 L680.15,741.00 L680.17,741.50 L680.20,742.00 L680.22,742.50 L680.25,743.00 L680.27,743.50 L680.30,744.00 L680.32,744.50 L680.34,745.00 L680.37,745.50 L680.39,746.00 L680.42,746.50 L680.44,747.00 L680.47,747.50 L680.49,748.00 L680.51,748.50 L680.54,749.00 L680.56,749.50 L680.59,750.00 L680.61,750.50 L680.63,751.00 L680.66,751.50 L680.68,752.00 L680.71,752.50 L680.73,753.00 L680.75,753.50 L680.78,754.00 L680.80,754.50 L680.82,755.00 L680.85,755.50 L680.87,756.00 L680.89,756.50 L680.92,757.00 L680.94,757.50 L680.96,758.00 L680.98,758.50 L681.01,759.00 L681.03,759.50 L681.05,760.00 L681.08,760.50 L681.10,761.00 L681.12,761.50 L681.14,762.00 L681.16,762.50 L681.19,763.00 L681.21,763.50 L681.23,764.00 L681.25,764.50 L681.27,765.00 L681.30,765.50 L681.32,766.00 L681.34,766.50 L681.36,767.00 L681.38,767.50 L681.40,768.00 L681.42,768.50 L681.44,769.00 L681.46,769.50 L681.48,770.00 L681.50,770.50 L681.53,771.00 L681.55,771.50 L681.57,772.00 L681.59,772.50 L681.61,773.00 L681.63,773.50 L681.65,774.00 L681.67,774.50 L681.69,775.00 L681.71,775.50 L681.73,776.00 L681.75,776.50 L681.77,777.00 L681.79,777.50 L681.80,778.00 L681.82,778.50 L681.84,779.00 L681.86,779.50 L681.88,780.00 L681.90,780.50 L681.92,781.00 L681.94,781.50 L681.96,782.00 L681.98,782.50 L682.00,783.00 L682.02,783.50 L682.04,784.00 L682.06,784.50 L682.08,785.00 L682.10,785.50 L682.11,786.00 L682.13,786.50 L682.15,787.00 L682.17,787.50 L682.19,788.00 L682.21,788.50 L682.23,789.00 L682.25,789.50 L682.27,790.00 L682.29,790.50 L682.31,791.00 L682.33,791.50 L682.35,792.00 L682.37,792.50 L682.39,793.00 L682.41,793.50 L682.43,794.00 L682.44,794.50 L682.46,795.00 L682.48,795.50 L682.50,796.00 L682.52,796.50 L682.54,797.00 L682.56,797.50 L682.58,798.00 L682.60,798.50 L682.62,799.00 L682.64,799.50 L682.66,800.00 L682.68,800.50 L682.71,801.00 L682.73,801.50 L682.75,802.00 L682.77,802.50 L682.79,803.00 L682.81,803.50 L682.83,804.00 L682.85,804.50 L682.87,805.00 L682.89,805.50 L682.91,806.00 L682.94,806.50 L682.96,807.00 L682.98,807.50 L683.00,808.00 L683.02,808.50 L683.04,809.00 L683.07,809.50 L683.09,810.00 L683.11,810.50 L683.13,811.00 L683.16,811.50 L683.18,812.00 L683.20,812.50 L683.22,813.00 L683.25,813.50 L683.27,814.00 L683.29,814.50 L683.32,815.00 L683.34,815.50 L683.37,816.00 L683.39,816.50 L683.41,817.00 L683.44,817.50 L683.46,818.00 L683.49,818.50 L683.51,819.00 L683.54,819.50 L683.57,820.00 L683.59,820.50 L683.62,821.00 L683.65,821.50 L683.67,822.00 L683.70,822.50 L683.73,823.00 L683.75,823.50 L683.78,824.00 L683.81,824.50 L683.84,825.00 L683.87,825.50 L683.89,826.00 L683.92,826.50 L683.95,827.00 L683.98,827.50 L684.01,828.00 L684.04,828.50 L684.07,829.00 L684.10,829.50 L684.13,830.00 L684.15,830.50 L684.18,831.00 L684.21,831.50 L684.24,832.00 L684.27,832.50 L684.30,833.00 L684.33,833.50 L684.36,834.00 L684.39,834.50 L684.42,835.00 L684.45,835.50 L684.48,836.00 L684.51,836.50 L684.54,837.00 L684.57,837.50 L684.60,838.00 L684.63,838.50 L684.66,839.00 L684.69,839.50 L684.72,840.00 L684.75,840.50 L684.78,841.00 L684.81,841.50 L684.84,842.00 L684.87,842.50 L684.90,843.00 L684.93,843.50 L684.96,844.00 L684.99,844.50 L685.02,845.00 L685.05,845.50 L685.08,846.00 L685.10,846.50 L685.13,847.00 L685.16,847.50 L685.19,848.00 L685.22,848.50 L685.25,849.00 L685.27,849.50 L685.30,850.00 L685.33,850.50 L685.35,851.00 L685.38,851.50 L685.41,852.00 L685.44,852.50 L685.46,853.00 L685.49,853.50 L685.52,854.00 L685.54,854.50 L685.57,855.00 L685.59,855.50 L685.62,856.00 L685.65,856.50 L685.67,857.00 L685.70,857.50 L685.72,858.00 L685.75,858.50 L685.78,859.00 L685.80,859.50 L685.83,860.00 L685.85,860.50 L685.88,861.00 L685.90,861.50 L685.93,862.00 L685.96,862.50 L685.98,863.00 L686.01,863.50 L686.03,864.00 L686.06,864.50 L686.08,865.00 L686.11,865.50 L686.13,866.00 L686.16,866.50 L686.18,867.00 L686.21,867.50 L686.24,868.00 L686.26,868.50 L686.29,869.00 L686.31,869.50 L686.34,870.00 L686.36,870.50 L686.39,871.00 L686.41,871.50 L686.44,872.00 L686.46,872.50 L686.49,873.00 L686.51,873.50 L686.54,874.00 L686.57,874.50 L686.59,875.00 L686.62,875.50 L686.64,876.00 L686.67,876.50 L686.69,877.00 L686.72,877.50 L686.75,878.00 L686.77,878.50 L686.80,879.00 L686.82,879.50 L686.85,880.00 L686.88,880.50 L686.90,881.00 L686.93,881.50 L686.96,882.00 L686.98,882.50 L687.01,883.00 L687.04,883.50 L687.06,884.00 L687.09,884.50 L687.12,885.00 L687.15,885.50 L687.17,886.00 L687.20,886.50 L687.23,887.00 L687.26,887.50 L687.28,888.00 L687.31,888.50 L687.34,889.00 L687.37,889.50 L687.40,890.00 L687.42,890.50 L687.45,891.00 L687.48,891.50 L687.51,892.00 L687.54,892.50 L687.57,893.00 L687.60,893.50 L687.63,894.00 L687.66,894.50 L687.69,895.00 L687.72,895.50 L687.75,896.00 L687.78,896.50 L687.81,897.00 L687.84,897.50 L687.87,898.00 L687.90,898.50 L687.93,899.00 L687.96,899.50 L687.99,900.00 L688.02,900.50 L688.05,901.00 L688.08,901.50 L688.11,902.00 L688.15,902.50 L688.18,903.00 L688.21,903.50 L688.24,904.00 L688.27,904.50 L688.30,905.00 L688.33,905.50 L688.36,906.00 L688.39,906.50 L688.43,907.00 L688.46,907.50 L688.49,908.00 L688.52,908.50 L688.55,909.00 L688.58,909.50 L688.61,910.00 L688.64,910.50 L688.67,911.00 L688.71,911.50 L688.74,912.00 L688.77,912.50 L688.80,913.00 L688.83,913.50 L688.86,914.00 L688.89,914.50 L688.92,915.00 L688.95,915.50 L688.98,916.00 L689.01,916.50 L689.04,917.00 L689.07,917.50 L689.10,918.00 L689.13,918.50 L689.16,919.00 L689.19,919.50 L689.22,920.00 L689.25,920.50 L689.28,921.00 L689.31,921.50 L689.34,922.00 L689.37,922.50 L689.40,923.00 L689.43,923.50 L689.46,924.00 L689.49,924.50 L689.52,925.00 L689.54,925.50 L689.57,926.00 L689.60,926.50 L689.63,927.00 L689.66,927.50 L689.68,928.00 L689.71,928.50 L689.74,929.00 L689.76,929.50 L689.79,930.00 L689.82,930.50 L689.84,931.00 L689.87,931.50 L689.90,932.00 L689.92,932.50 L689.95,933.00 L689.97,933.50 L690.00,934.00 L690.03,934.50 L690.05,935.00 L690.08,935.50 L690.10,936.00 L690.13,936.50 L690.15,937.00 L690.18,937.50 L690.20,938.00 L690.23,938.50 L690.25,939.00 L690.28,939.50 L690.30,940.00 L690.33,940.50 L690.35,941.00 L690.38,941.50 L690.40,942.00 L690.43,942.50 L690.45,943.00 L690.47,943.50 L690.50,944.00 L690.52,944.50 L690.55,945.00 L690.57,945.50 L690.60,946.00 L690.62,946.50 L690.65,947.00 L690.67,947.50 L690.70,948.00 L690.72,948.50 L690.75,949.00 L690.77,949.50 L690.80,950.00 L690.82,950.50 L690.85,951.00 L690.87,951.50 L690.90,952.00 L690.92,952.50 L690.95,953.00 L690.97,953.50 L691.00,954.00 L691.03,954.50 L691.05,955.00 L691.08,955.50 L691.11,956.00 L691.13,956.50 L691.16,957.00 L691.19,957.50 L691.21,958.00 L691.24,958.50 L691.27,959.00 L691.29,959.50 L691.32,960.00 L691.35,960.50 L691.38,961.00 L691.41,961.50 L691.44,962.00 L691.46,962.50 L691.49,963.00 L691.52,963.50 L691.55,964.00 L691.58,964.50 L691.61,965.00 L691.64,965.50 L691.67,966.00 L691.70,966.50 L691.73,967.00 L691.77,967.50 L691.80,968.00 L691.83,968.50 L691.86,969.00 L691.89,969.50 L691.93,970.00 L691.96,970.50 L691.99,971.00 L692.02,971.50 L692.06,972.00 L692.09,972.50 L692.12,973.00 L692.16,973.50 L692.19,974.00 L692.22,974.50 L692.26,975.00 L692.29,975.50 L692.33,976.00 L692.36,976.50 L692.40,977.00 L692.43,977.50 L692.47,978.00 L692.50,978.50 L692.54,979.00 L692.57,979.50 L692.61,980.00 L692.64,980.50 L692.68,981.00 L692.72,981.50 L692.75,982.00 L692.79,982.50 L692.82,983.00 L692.86,983.50 L692.90,984.00 L692.93,984.50 L692.97,985.00 L693.01,985.50 L693.04,986.00 L693.08,986.50 L693.12,987.00 L693.15,987.50 L693.19,988.00 L693.23,988.50 L693.26,989.00 L693.30,989.50 L693.34,990.00 L693.38,990.50 L693.41,991.00 L693.45,991.50 L693.49,992.00 L693.52,992.50 L693.56,993.00 L693.60,993.50 L693.64,994.00 L693.67,994.50 L693.71,995.00 L693.75,995.50 L693.78,996.00 L693.82,996.50 L693.86,997.00 L693.90,997.50 L693.93,998.00 L693.97,998.50 L694.01,999.00 L694.04,999.50 L694.08,1000.00 L694.12,1000.50 L694.15,1001.00 L694.19,1001.50 L694.23,1002.00 L694.26,1002.50 L694.30,1003.00 L694.34,1003.50 L694.37,1004.00 L694.41,1004.50 L694.45,1005.00 L694.48,1005.50 L694.52,1006.00 L694.56,1006.50 L694.59,1007.00 L694.63,1007.50 L694.67,1008.00 L694.71,1008.50 L694.74,1009.00 L694.78,1009.50 L694.82,1010.00 L694.86,1010.50 L694.89,1011.00 L694.93,1011.50 L694.97,1012.00 L695.01,1012.50 L695.05,1013.00 L695.08,1013.50 L695.12,1014.00 L695.16,1014.50 L695.20,1015.00 L695.24,1015.50 L695.28,1016.00 L695.31,1016.50 L695.35,1017.00 L695.39,1017.50 L695.43,1018.00 L695.47,1018.50 L695.50,1019.00 L695.54,1019.50 L695.58,1020.00 L695.62,1020.50 L695.66,1021.00 L695.70,1021.50 L695.73,1022.00 L695.77,1022.50 L695.81,1023.00 L695.85,1023.50 L695.89,1024.00 L695.92,1024.50 L695.96,1025.00 L696.00,1025.50 L696.04,1026.00 L696.07,1026.50 L696.11,1027.00 L696.15,1027.50 L696.19,1028.00 L696.22,1028.50 L696.26,1029.00 L696.30,1029.50 L696.33,1030.00 L696.37,1030.50 L696.41,1031.00 L696.44,1031.50 L696.48,1032.00 L696.52,1032.50 L696.55,1033.00 L696.59,1033.50 L696.62,1034.00 L696.66,1034.50 L696.69,1035.00 L696.73,1035.50 L696.77,1036.00 L696.80,1036.50 L696.83,1037.00 L696.87,1037.50 L696.90,1038.00 L696.94,1038.50 L696.97,1039.00 L697.00,1039.50 L697.04,1040.00 L697.07,1040.50 L697.10,1041.00 L697.13,1041.50 L697.16,1042.00 L697.20,1042.50 L697.23,1043.00 L697.26,1043.50 L697.29,1044.00 L697.32,1044.50 L697.35,1045.00 L697.38,1045.50 L697.41,1046.00 L697.44,1046.50 L697.47,1047.00 L697.50,1047.50 L697.53,1048.00 L697.56,1048.50 L697.59,1049.00 L697.62,1049.50 L697.65,1050.00 L697.68,1050.50 L697.71,1051.00 L697.74,1051.50 L697.77,1052.00 L697.80,1052.50 L697.83,1053.00 L697.85,1053.50 L697.88,1054.00 L697.91,1054.50 L697.94,1055.00 L697.97,1055.50 L698.00,1056.00 L698.03,1056.50 L698.06,1057.00 L698.09,1057.50 L698.12,1058.00 L698.15,1058.50 L698.18,1059.00 L698.21,1059.50 L698.25,1060.00 L698.28,1060.50 L698.31,1061.00 L698.34,1061.50 L698.37,1062.00 L698.40,1062.50 L698.44,1063.00 L698.47,1063.50 L698.50,1064.00 L698.53,1064.50 L698.57,1065.00 L698.60,1065.50 L698.63,1066.00 L698.67,1066.50 L698.70,1067.00 L698.74,1067.50 L698.77,1068.00 L698.81,1068.50 L698.85,1069.00 L698.88,1069.50 L698.92,1070.00 L698.96,1070.50 L699.00,1071.00 L699.03,1071.50 L699.07,1072.00 L699.11,1072.50 L699.15,1073.00 L699.19,1073.50 L699.23,1074.00 L699.27,1074.50 L699.32,1075.00 L699.36,1075.50 L699.40,1076.00 L699.45,1076.50 L699.49,1077.00 L699.54,1077.50 L699.58,1078.00 L699.63,1078.50 L699.68,1079.00 L699.73,1079.50 L699.77,1080.00 L699.82,1080.50 L699.87,1081.00 L699.92,1081.50 L699.98,1082.00 L700.03,1082.50 L700.08,1083.00 L700.13,1083.50 L700.19,1084.00 L700.24,1084.50 L700.29,1085.00 L700.35,1085.50 L700.40,1086.00 L700.46,1086.50 L700.52,1087.00 L700.57,1087.50 L700.63,1088.00 L700.69,1088.50 L700.75,1089.00 L700.80,1089.50 L700.86,1090.00 L700.92,1090.50 L700.98,1091.00 L701.04,1091.50 L701.10,1092.00 L701.16,1092.50 L701.22,1093.00 L701.28,1093.50 L701.35,1094.00 L701.41,1094.50 L701.47,1095.00 L701.53,1095.50 L701.59,1096.00 L701.66,1096.50 L701.72,1097.00 L701.78,1097.50 L701.85,1098.00 L701.91,1098.50 L701.97,1099.00 L702.04,1099.50 L702.10,1100.00 L702.17,1100.50 L702.23,1101.00 L702.29,1101.50 L702.36,1102.00 L702.42,1102.50 L702.49,1103.00 L702.55,1103.50 L702.62,1104.00 L702.68,1104.50 L702.75,1105.00 L702.81,1105.50 L702.88,1106.00 L702.94,1106.50 L703.01,1107.00 L703.08,1107.50 L703.14,1108.00 L703.21,1108.50 L703.28,1109.00 L703.35,1109.50 L703.42,1110.00 L703.49,1110.50 L703.56,1111.00 L703.63,1111.50 L703.70,1112.00 L703.77,1112.50 L703.84,1113.00 L703.91,1113.50 L703.99,1114.00 L704.06,1114.50 L704.13,1115.00 L704.20,1115.50 L704.28,1116.00 L704.35,1116.50 L704.43,1117.00 L704.50,1117.50 L704.58,1118.00 L704.65,1118.50 L704.73,1119.00 L704.80,1119.50 L704.88,1120.00 L704.95,1120.50 L705.03,1121.00 L705.11,1121.50 L705.19,1122.00 L705.26,1122.50 L705.34,1123.00 L705.42,1123.50 L705.50,1124.00 L705.57,1124.50 L705.65,1125.00 L705.73,1125.50 L705.81,1126.00 L705.89,1126.50 L705.97,1127.00 L706.05,1127.50 L706.12,1128.00 L706.20,1128.50 L706.28,1129.00 L706.36,1129.50 L706.44,1130.00 L706.52,1130.50 L706.60,1131.00 L706.68,1131.50 L706.76,1132.00 L706.84,1132.50 L706.92,1133.00 L707.00,1133.50 L707.08,1134.00 L707.16,1134.50 L707.24,1135.00 L707.32,1135.50 L707.40,1136.00 L707.48,1136.50 L707.56,1137.00 L707.64,1137.50 L707.72,1138.00 L707.80,1138.50 L707.88,1139.00 L707.95,1139.50 L708.03,1140.00 L708.11,1140.50 L708.19,1141.00 L708.27,1141.50 L708.35,1142.00 L708.43,1142.50 L708.51,1143.00 L708.58,1143.50 L708.66,1144.00 L708.74,1144.50 L708.82,1145.00 L708.90,1145.50 L708.98,1146.00 L709.06,1146.50 L709.14,1147.00 L709.22,1147.50 L709.30,1148.00 L709.38,1148.50 L709.46,1149.00 L709.54,1149.50 L709.63,1150.00 L709.71,1150.50 L709.79,1151.00 L709.88,1151.50 L709.96,1152.00 L710.04,1152.50 L710.13,1153.00 L710.21,1153.50 L710.30,1154.00 L710.39,1154.50 L710.47,1155.00 L710.56,1155.50 L710.65,1156.00 L710.74,1156.50 L710.83,1157.00 L710.92,1157.50 L711.01,1158.00 L711.11,1158.50 L711.20,1159.00 L711.29,1159.50 L711.39,1160.00 L711.48,1160.50 L711.58,1161.00 L711.68,1161.50 L711.78,1162.00 L711.88,1162.50 L711.98,1163.00 L712.08,1163.50 L712.18,1164.00 L712.29,1164.50 L712.39,1165.00 L712.50,1165.50 L712.61,1166.00 L712.71,1166.50 L712.82,1167.00 L712.93,1167.50 L713.05,1168.00 L713.16,1168.50 L713.27,1169.00 L713.39,1169.50 L713.51,1170.00 L713.63,1170.50 L713.74,1171.00 L713.86,1171.50 L713.99,1172.00 L714.11,1172.50 L714.23,1173.00 L714.36,1173.50 L714.49,1174.00 L714.62,1174.50 L714.74,1175.00 L714.88,1175.50 L715.01,1176.00 L715.14,1176.50 L715.28,1177.00 L715.41,1177.50 L715.55,1178.00 L715.69,1178.50 L715.83,1179.00 L715.97,1179.50 L716.11,1180.00 L716.26,1180.50 L716.40,1181.00 L716.55,1181.50 L716.70,1182.00 L716.85,1182.50 L717.00,1183.00 L717.15,1183.50 L717.30,1184.00 L717.46,1184.50 L717.61,1185.00 L717.76,1185.50 L717.92,1186.00 L718.08,1186.50 L718.24,1187.00 L718.40,1187.50 L718.56,1188.00 L718.73,1188.50 L718.90,1189.00 L719.07,1189.50 L719.24,1190.00 L719.42,1190.50 L719.60,1191.00 L719.78,1191.50 L719.97,1192.00 L720.16,1192.50 L720.35,1193.00 L720.55,1193.50 L720.75,1194.00 L720.95,1194.50 L721.16,1195.00 L721.37,1195.50 L721.59,1196.00 L721.81,1196.50 L722.04,1197.00 L722.27,1197.50 L722.51,1198.00 L722.75,1198.50 L723.00,1199.00 L723.26,1199.50 L723.54,1200.00 L723.82,1200.50 L724.12,1201.00 L724.43,1201.50 L724.75,1202.00 L725.08,1202.50 L725.42,1203.00 L725.77,1203.50 L726.13,1204.00 L726.50,1204.50 L726.87,1205.00 L727.25,1205.50 L727.64,1206.00 L728.03,1206.50 L728.43,1207.00 L728.84,1207.50 L729.25,1208.00 L729.66,1208.50 L730.08,1209.00 L730.50,1209.50 L730.75,1209.75 L731.00,1210.00 L731.25,1210.24 L731.50,1210.49 L731.75,1210.74 L732.00,1210.98 L732.25,1211.22 L732.50,1211.46 L732.75,1211.70 L733.00,1211.93 L733.25,1212.17 L733.50,1212.40 L733.75,1212.63 L734.00,1212.85 L734.25,1213.07 L734.50,1213.29 L734.75,1213.50 L735.00,1213.72 L735.25,1213.92 L735.50,1214.12 L735.75,1214.32 L736.00,1214.52 L736.25,1214.71 L736.50,1214.89 L736.75,1215.07 L737.00,1215.24 L737.25,1215.41 L737.50,1215.57 L737.75,1215.73 L738.00,1215.88 L738.25,1216.03 L738.50,1216.16 L738.75,1216.30 L739.00,1216.42 L739.25,1216.54 L739.50,1216.65 L739.75,1216.75 L740.00,1216.85 L740.25,1216.94 L740.50,1217.02 L740.75,1217.09 L741.00,1217.15 L741.25,1217.21 L741.50,1217.26 L741.75,1217.32 L742.00,1217.37 L742.25,1217.42 L742.50,1217.47 L742.75,1217.52 L743.00,1217.57 L743.25,1217.61 L743.50,1217.66 L743.75,1217.71 L744.00,1217.75 L744.25,1217.80 L744.50,1217.84 L744.75,1217.88 L745.00,1217.93 L745.25,1217.97 L745.50,1218.01 L745.75,1218.05 L746.00,1218.09 L746.25,1218.12 L746.50,1218.16 L746.75,1218.20 L747.00,1218.23 L747.25,1218.26 L747.50,1218.30 L747.75,1218.33 L748.00,1218.36 L748.25,1218.39 L748.50,1218.41 L748.75,1218.44 L749.00,1218.47 L749.25,1218.49 L749.50,1218.51 L749.75,1218.54 L750.00,1218.56 L750.25,1218.58 L750.50,1218.59 L750.75,1218.61 L751.00,1218.63 L751.25,1218.64 L751.50,1218.65 L751.75,1218.66 L752.00,1218.67 L752.25,1218.68 L752.50,1218.69 L752.75,1218.69 L753.00,1218.70 L753.25,1218.70 L753.50,1218.70 L753.75,1218.70 L754.00,1218.69 L754.25,1218.67 L754.50,1218.65 L754.75,1218.62 L755.00,1218.58 L755.25,1218.54 L755.50,1218.50 L755.75,1218.45 L756.00,1218.39 L756.25,1218.33 L756.50,1218.26 L756.75,1218.19 L757.00,1218.12 L757.25,1218.04 L757.50,1217.96 L757.75,1217.87 L758.00,1217.78 L758.25,1217.68 L758.50,1217.58 L758.75,1217.48 L759.00,1217.38 L759.25,1217.27 L759.50,1217.16 L759.75,1217.05 L760.00,1216.94 L760.25,1216.82 L760.50,1216.70 L760.75,1216.58 L761.00,1216.46 L761.25,1216.33 L761.50,1216.21 L761.75,1216.08 L762.00,1215.96 L762.25,1215.83 L762.50,1215.70 L762.75,1215.57 L763.00,1215.45 L763.25,1215.32 L763.50,1215.19 L763.75,1215.06 L764.00,1214.94 L764.25,1214.81 L764.50,1214.68 L764.75,1214.56 L765.00,1214.44 L765.25,1214.31 L765.50,1214.19 L765.75,1214.08 L766.00,1213.96 L766.25,1213.83 L766.50,1213.70 L766.75,1213.56 L767.00,1213.42 L767.25,1213.28 L767.50,1213.13 L767.75,1212.98 L768.00,1212.82 L768.25,1212.66 L768.50,1212.50 L768.75,1212.34 L769.00,1212.17 L769.25,1212.00 L769.50,1211.83 L769.75,1211.66 L770.00,1211.49 L770.25,1211.31 L770.50,1211.13 L770.75,1210.95 L771.00,1210.78 L771.25,1210.60 L771.50,1210.42 L771.75,1210.24 L772.00,1210.06 L772.25,1209.88 L772.50,1209.70 L772.75,1209.52 L773.00,1209.35 L773.25,1209.17 L773.50,1209.00 L773.75,1208.83 L774.00,1208.66 L774.25,1208.49 L774.50,1208.33 L774.75,1208.16 L775.00,1208.00 L775.25,1207.85 L775.50,1207.69 L775.75,1207.55 L776.00,1207.40 L776.25,1207.26 L776.50,1207.12 L776.75,1206.99 L777.00,1206.86 L777.25,1206.74 L777.50,1206.62 L777.75,1206.51 L778.00,1206.40 L778.25,1206.30 L778.50,1206.19 L778.75,1206.08 L779.00,1205.98 L779.25,1205.87 L779.50,1205.76 L779.75,1205.65 L780.00,1205.55 L780.25,1205.44 L780.50,1205.33 L780.75,1205.22 L781.00,1205.11 L781.25,1205.01 L781.50,1204.90 L781.75,1204.80 L782.00,1204.69 L782.25,1204.59 L782.50,1204.49 L782.75,1204.38 L783.00,1204.28 L783.25,1204.19 L783.50,1204.09 L783.75,1204.00 L784.00,1203.90 L784.25,1203.81 L784.50,1203.72 L784.75,1203.64 L785.00,1203.55 L785.25,1203.47 L785.50,1203.39 L785.75,1203.32 L786.00,1203.25 L786.25,1203.18 L786.50,1203.11 L786.75,1203.05 L787.00,1202.99 L787.25,1202.93 L787.50,1202.88 L787.75,1202.83 L788.00,1202.79 L788.25,1202.75 L788.50,1202.72 L788.75,1202.69 L789.00,1202.66 L789.25,1202.64 L789.50,1202.62 L789.75,1202.61 L790.00,1202.60 L790.25,1202.60 L790.50,1202.60 L790.75,1202.60 L791.00,1202.60 L791.25,1202.61 L791.50,1202.61 L791.75,1202.62 L792.00,1202.63 L792.25,1202.63 L792.50,1202.64 L792.75,1202.65 L793.00,1202.66 L793.25,1202.67 L793.50,1202.68 L793.75,1202.70 L794.00,1202.71 L794.25,1202.72 L794.50,1202.74 L794.75,1202.76 L795.00,1202.77 L795.25,1202.79 L795.50,1202.81 L795.75,1202.83 L796.00,1202.85 L796.25,1202.87 L796.50,1202.89 L796.75,1202.91 L797.00,1202.94 L797.25,1202.96 L797.50,1202.99 L797.75,1203.01 L798.00,1203.04 L798.25,1203.07 L798.50,1203.10 L798.75,1203.12 L799.00,1203.15 L799.25,1203.18 L799.50,1203.21 L799.75,1203.25 L800.00,1203.28 L800.25,1203.31 L800.50,1203.34 L800.75,1203.38 L801.00,1203.42 L801.25,1203.46 L801.50,1203.53 L801.75,1203.61 L802.00,1203.70 L802.25,1203.80 L802.50,1203.92 L802.75,1204.05 L803.00,1204.20 L803.25,1204.35 L803.50,1204.51 L803.75,1204.69 L804.00,1204.87 L804.25,1205.07 L804.50,1205.27 L804.75,1205.48 L805.00,1205.70 L805.25,1205.93 L805.50,1206.16 L805.75,1206.40 L806.00,1206.64 L806.25,1206.89 L806.50,1207.15 L806.75,1207.41 L807.00,1207.67 L807.25,1207.93 L807.50,1208.20 L807.75,1208.47 L808.00,1208.74 L808.25,1209.01 L808.50,1209.28 L808.75,1209.55 L809.00,1209.83 L809.25,1210.10 L809.50,1210.36 L809.75,1210.63 L810.00,1210.90 L810.25,1211.16 L810.50,1211.43 L810.75,1211.72 L811.00,1212.01 L811.25,1212.31 L811.50,1212.63 L811.75,1212.95 L812.00,1213.28 L812.25,1213.61 L812.50,1213.96 L812.75,1214.30 L813.00,1214.66 L813.25,1215.02 L813.50,1215.38 L813.75,1215.75 L814.00,1216.12 L814.25,1216.49 L814.50,1216.86 L814.75,1217.24 L815.00,1217.61 L815.25,1217.99 L815.50,1218.37 L815.75,1218.74 L816.00,1219.11 L816.25,1219.49 L816.50,1219.85 L816.75,1220.22 L817.00,1220.58 L817.25,1220.94 L817.50,1221.29 L817.75,1221.63 L818.00,1221.97 L818.25,1222.32 L818.50,1222.66 L818.75,1223.01 L819.00,1223.35 L819.25,1223.70 L819.50,1224.05 L819.75,1224.40 L820.00,1224.75 L820.25,1225.10 L820.50,1225.45 L820.75,1225.80 L821.00,1226.15 L821.25,1226.50 L821.50,1226.85 L821.75,1227.20 L822.00,1227.54 L822.25,1227.89 L822.50,1228.23 L822.75,1228.57 L823.00,1228.92 L823.25,1229.26 L823.50,1229.59 L823.75,1229.93 L824.00,1230.26 L824.25,1230.59 L824.50,1230.92 L824.75,1231.24 L825.00,1231.56 L825.25,1231.88 L825.50,1232.20 L825.75,1232.51 L826.00,1232.81 L826.25,1233.12 L826.50,1233.42 L826.75,1233.71 L827.00,1234.00 L827.25,1234.29 L827.50,1234.58 L827.75,1234.86 L828.00,1235.15 L828.25,1235.43 L828.50,1235.72 L828.75,1236.00 L829.00,1236.29 L829.25,1236.57 L829.50,1236.85 L829.75,1237.13 L830.00,1237.41 L830.25,1237.68 L830.50,1237.95 L830.75,1238.22 L831.00,1238.49 L831.25,1238.76 L831.50,1239.02 L831.75,1239.28 L832.00,1239.54 L832.25,1239.79 L832.50,1240.04 L832.75,1240.29 L833.00,1240.54 L833.25,1240.78 L833.50,1241.01 L833.75,1241.24 L834.00,1241.47 L834.25,1241.70 L834.50,1241.92 L834.75,1242.13 L835.00,1242.34 L835.25,1242.54 L835.50,1242.74 L835.75,1242.94 L836.00,1243.13 L836.25,1243.31 L836.50,1243.49 L836.75,1243.68 L837.00,1243.86 L837.25,1244.04 L837.50,1244.23 L837.75,1244.41 L838.00,1244.59 L838.25,1244.77 L838.50,1244.95 L838.75,1245.13 L839.00,1245.30 L839.25,1245.48 L839.50,1245.65 L839.75,1245.82 L840.00,1245.99 L840.25,1246.16 L840.50,1246.32 L840.75,1246.48 L841.00,1246.64 L841.25,1246.80 L841.50,1246.96 L841.75,1247.11 L842.00,1247.25 L842.25,1247.40 L842.50,1247.54 L842.75,1247.68 L843.00,1247.81 L843.25,1247.94 L843.50,1248.07 L843.75,1248.19 L844.00,1248.31 L844.25,1248.43 L844.50,1248.53 L844.75,1248.64 L845.00,1248.74 L845.25,1248.83 L845.50,1248.92 L845.75,1249.01 L846.00,1249.09 L846.25,1249.16 L846.50,1249.23 L846.75,1249.29 L847.00,1249.35 L847.25,1249.40 L847.50,1249.46 L847.75,1249.51 L848.00,1249.57 L848.25,1249.62 L848.50,1249.67 L848.75,1249.72 L849.00,1249.77 L849.25,1249.82 L849.50,1249.87 L849.75,1249.92 L850.00,1249.97 L850.25,1250.02 L850.50,1250.06 L850.75,1250.11 L851.00,1250.15 L851.25,1250.19 L851.50,1250.24 L851.75,1250.28 L852.00,1250.32 L852.25,1250.36 L852.50,1250.40 L852.75,1250.44 L853.00,1250.48 L853.25,1250.52 L853.50,1250.56 L853.75,1250.59 L854.00,1250.63 L854.25,1250.66 L854.50,1250.70 L854.75,1250.73 L855.00,1250.77 L855.25,1250.80 L855.50,1250.83 L855.75,1250.86 L856.00,1250.89 L856.25,1250.92 L856.50,1250.95 L856.75,1250.98 L857.00,1251.01 L857.25,1251.04 L857.50,1251.07 L857.75,1251.10 L858.00,1251.12 L858.25,1251.15 L858.50,1251.17 L858.75,1251.20 L859.00,1251.22 L859.25,1251.25 L859.50,1251.27 L859.75,1251.29 L860.00,1251.32 L860.25,1251.34 L860.50,1251.36 L860.75,1251.38 L861.00,1251.40 L861.25,1251.42 L861.50,1251.44 L861.75,1251.46 L862.00,1251.48 L862.25,1251.50 L862.50,1251.52 L862.75,1251.54 L863.00,1251.55 L863.25,1251.57 L863.50,1251.59 L863.75,1251.60 L864.00,1251.62 L864.25,1251.64 L864.50,1251.65 L864.75,1251.67 L865.00,1251.68 L865.25,1251.70 L865.50,1251.72 L865.75,1251.73 L866.00,1251.75 L866.25,1251.76 L866.50,1251.78 L866.75,1251.79 L867.00,1251.81 L867.25,1251.82 L867.50,1251.84 L867.75,1251.85 L868.00,1251.87 L868.25,1251.88 L868.50,1251.90 L868.75,1251.91 L869.00,1251.92 L869.25,1251.94 L869.50,1251.95 L869.75,1251.97 L870.00,1251.98 L870.25,1251.99 L870.50,1252.01 L870.75,1252.02 L871.00,1252.03 L871.25,1252.04 L871.50,1252.06 L871.75,1252.07 L872.00,1252.08 L872.25,1252.09 L872.50,1252.10 L872.75,1252.11 L873.00,1252.12 L873.25,1252.13 L873.50,1252.14 L873.75,1252.15 L874.00,1252.16 L874.25,1252.17 L874.50,1252.18 L874.75,1252.19 L875.00,1252.20 L875.25,1252.21 L875.50,1252.22 L875.75,1252.22 L876.00,1252.23 L876.25,1252.24 L876.50,1252.24 L876.75,1252.25 L877.00,1252.26 L877.25,1252.26 L877.50,1252.27 L877.75,1252.27 L878.00,1252.28 L878.25,1252.28 L878.50,1252.28 L878.75,1252.29 L879.00,1252.29 L879.25,1252.29 L879.50,1252.30 L879.75,1252.30 L880.00,1252.30 L880.25,1252.30 L880.50,1252.30 L880.75,1252.30 L881.00,1252.31 L881.25,1252.31 L881.50,1252.31 L881.75,1252.31 L882.00,1252.31 L882.25,1252.31 L882.50,1252.31 L882.75,1252.31 L883.00,1252.32 L883.25,1252.32 L883.50,1252.32 L883.75,1252.32 L884.00,1252.32 L884.25,1252.32 L884.50,1252.32 L884.75,1252.32 L885.00,1252.32 L885.25,1252.33 L885.50,1252.33 L885.75,1252.33 L886.00,1252.33 L886.25,1252.33 L886.50,1252.33 L886.75,1252.33 L887.00,1252.33 L887.25,1252.33 L887.50,1252.34 L887.75,1252.34 L888.00,1252.34 L888.25,1252.34 L888.50,1252.34 L888.75,1252.34 L889.00,1252.34 L889.25,1252.34 L889.50,1252.34 L889.75,1252.35 L890.00,1252.35 L890.25,1252.35 L890.50,1252.35 L890.75,1252.35 L891.00,1252.35 L891.25,1252.35 L891.50,1252.35 L891.75,1252.35 L892.00,1252.35 L892.25,1252.35 L892.50,1252.36 L892.75,1252.36 L893.00,1252.36 L893.25,1252.36 L893.50,1252.36 L893.75,1252.36 L894.00,1252.36 L894.25,1252.36 L894.50,1252.36 L894.75,1252.36 L895.00,1252.36 L895.25,1252.36 L895.50,1252.36 L895.75,1252.37 L896.00,1252.37 L896.25,1252.37 L896.50,1252.37 L896.75,1252.37 L897.00,1252.37 L897.25,1252.37 L897.50,1252.37 L897.75,1252.37 L898.00,1252.37 L898.25,1252.37 L898.50,1252.37 L898.75,1252.37 L899.00,1252.37 L899.25,1252.38 L899.50,1252.38 L899.75,1252.38 L900.00,1252.38 L900.25,1252.38 L900.50,1252.38 L900.75,1252.38 L901.00,1252.38 L901.25,1252.38 L901.50,1252.38 L901.75,1252.38 L902.00,1252.38 L902.25,1252.38 L902.50,1252.38 L902.75,1252.38 L903.00,1252.38 L903.25,1252.38 L903.50,1252.38 L903.75,1252.39 L904.00,1252.39 L904.25,1252.39 L904.50,1252.39 L904.75,1252.39 L905.00,1252.39 L905.25,1252.39 L905.50,1252.39 L905.75,1252.39 L906.00,1252.39 L906.25,1252.39 L906.50,1252.39 L906.75,1252.39 L907.00,1252.39 L907.25,1252.39 L907.50,1252.39 L907.75,1252.39 L908.00,1252.39 L908.25,1252.39 L908.50,1252.39 L908.75,1252.39 L909.00,1252.39 L909.25,1252.39 L909.50,1252.39 L909.75,1252.39 L910.00,1252.39 L910.25,1252.39 L910.50,1252.40 L910.75,1252.40 L911.00,1252.40 L911.25,1252.40 L911.50,1252.40 L911.75,1252.40 L912.00,1252.40 L912.25,1252.40 L912.50,1252.40 L912.75,1252.40 L913.00,1252.40 L913.25,1252.40 L913.50,1252.40 L913.75,1252.40 L914.00,1252.40 L914.25,1252.40 L914.50,1252.40 L914.75,1252.40 L915.00,1252.40 L915.25,1252.40 L915.50,1252.40 L915.75,1252.40 L916.00,1252.40 L916.25,1252.40 L916.50,1252.40 L916.75,1252.40 L917.00,1252.40 L917.25,1252.40 L917.50,1252.40 L917.75,1252.40 L918.00,1252.40 L918.25,1252.40 L918.50,1252.40 L918.75,1252.40 L919.00,1252.40 L919.25,1252.40 L919.50,1252.40 L919.75,1252.40 L920.00,1252.40 L920.25,1252.40 L920.50,1252.40 L920.75,1252.40 L921.00,1252.40 L921.25,1252.40 L921.50,1252.40 L921.75,1252.40 L922.00,1252.40 L922.25,1252.40 L922.50,1252.40 L922.75,1252.40 L923.00,1252.40 L923.25,1252.40 L923.50,1252.40 L923.75,1252.40 L924.00,1252.40 L924.25,1252.40 L924.50,1252.40 L924.75,1252.40 L1961.50,1252.40" fill="none" stroke="#ff1010" stroke-width="6.5" stroke-linejoin="round" stroke-linecap="butt"/>
<g font-family="Liberation Sans, Arial, sans-serif" font-size="35" fill="#4a4aff">
<text x="652.8" y="216">158</text>
<text x="549.5" y="986">93</text>
<text x="442.5" y="1221.5">23</text>
<text x="790.8" y="1195.5">248</text>
</g>
<g font-family="Liberation Sans, Arial, sans-serif" font-size="53" fill="#141414" stroke="#141414" stroke-width="0.9">
<text x="1023.5" y="741.0">Stats: Merged Data</text>
<text x="1023.5" y="819.8">Mean:</text>
<text x="1651.5" y="819.8">149.0 nm</text>
<text x="1023.5" y="898.5">Mode:</text>
<text x="1651.5" y="898.5">156.8 nm</text>
<text x="1023.5" y="977.2">SD:</text>
<text x="1651.5" y="977.2">37.3 nm</text>
<text x="1023.5" y="1056.0">D10:</text>
<text x="1651.5" y="1056.0">88.4 nm</text>
<text x="1023.5" y="1134.8">D50:</text>
<text x="1651.5" y="1134.8">148.4 nm</text>
<text x="1023.5" y="1213.5">D90:</text>
<text x="1651.5" y="1213.5">178.4 nm</text>
</g>
<g font-family="Liberation Sans, Arial, sans-serif" font-weight="bold" fill="#000">
<text x="45.4" y="135.8" font-size="113">(A)</text>
<text transform="translate(1224.4,1460.5) scale(1,1.065)" font-size="105" text-anchor="middle">Size (nm)</text>
<text transform="translate(133.8,729.2) rotate(-90) scale(1,1.06)" font-size="105" text-anchor="middle">Concentration</text>
<text transform="translate(258.7,714.2) rotate(-90) scale(1,1.06)" font-size="105" text-anchor="middle">(particles/ml)</text>
</g>
<g fill="#000">
<rect x="500.1" y="1799.4" width="12.8" height="986.5999999999999"/>
<rect x="470.6" y="2733.6" width="35.89999999999998" height="12"/>
<rect x="470.6" y="2546.8" width="35.89999999999998" height="12"/>
<rect x="470.6" y="2359.9" width="35.89999999999998" height="12"/>
<rect x="470.6" y="2173.1" width="35.89999999999998" height="12"/>
<rect x="470.6" y="1986.2" width="35.89999999999998" height="12"/>
<rect x="470.6" y="1799.4" width="35.89999999999998" height="12"/>
<rect x="500.5" y="2744.5" width="1434.7" height="12"/>
<rect x="703.7" y="2750" width="12" height="36"/>
<rect x="906.9" y="2750" width="12" height="36"/>
<rect x="1110.1" y="2750" width="12" height="36"/>
<rect x="1313.3" y="2750" width="12" height="36"/>
<rect x="1516.5" y="2750" width="12" height="36"/>
<rect x="1719.7" y="2750" width="12" height="36"/>
<rect x="1922.9" y="2750" width="12" height="36"/>
</g>
<g font-family="Liberation Sans, Arial, sans-serif" font-size="71.3" font-weight="bold" fill="#000">
<text x="467.7" y="2765.6" text-anchor="end">0</text>
<text x="467.7" y="2578.8" text-anchor="end">20</text>
<text x="467.7" y="2391.9" text-anchor="end">40</text>
<text x="467.7" y="2205.1" text-anchor="end">60</text>
<text x="467.7" y="2018.2" text-anchor="end">80</text>
<text x="467.7" y="1831.4" text-anchor="end">100</text>
<text x="506.5" y="2852" text-anchor="middle">0</text>
<text x="709.7" y="2852" text-anchor="middle">20</text>
<text x="912.9" y="2852" text-anchor="middle">40</text>
<text x="1116.1" y="2852" text-anchor="middle">60</text>
<text x="1319.3" y="2852" text-anchor="middle">80</text>
<text x="1522.5" y="2852" text-anchor="middle">100</text>
<text x="1725.7" y="2852" text-anchor="middle">120</text>
<text x="1928.9" y="2852" text-anchor="middle">140</text>
</g>
<polyline points="509.1,2652.0 515.5,2610.0 536.5,2460.0 628.4,2207.6 748.5,1993.8 994.6,1912.5 1237.5,1896.4 1726.0,1865.2" fill="none" stroke="#ff0000" stroke-width="12" stroke-linejoin="round"/>
<polyline points="507.5,2732.8 516.7,2732.8 537.0,2730.8 627.3,2713.6 749.6,2693.6 994.8,2693.6 1238.7,2687.3 1726.0,2678.8" fill="none" stroke="#0000ff" stroke-width="12" stroke-linejoin="round"/>
<g stroke="#000" fill="none">
<line x1="748.5" y1="1966" x2="748.5" y2="2021.6" stroke-width="5.5"/>
<line x1="725.5" y1="1966" x2="771.5" y2="1966" stroke-width="7.5"/>
<line x1="725.5" y1="2021.6" x2="771.5" y2="2021.6" stroke-width="7.5"/>
<line x1="994.6" y1="1880.5" x2="994.6" y2="1944.4" stroke-width="5.5"/>
<line x1="971.6" y1="1880.5" x2="1017.6" y2="1880.5" stroke-width="7.5"/>
<line x1="971.6" y1="1944.4" x2="1017.6" y2="1944.4" stroke-width="7.5"/>
<line x1="1237.5" y1="1848.3" x2="1237.5" y2="1944.5" stroke-width="5.5"/>
<line x1="1214.5" y1="1848.3" x2="1260.5" y2="1848.3" stroke-width="7.5"/>
<line x1="1214.5" y1="1944.5" x2="1260.5" y2="1944.5" stroke-width="7.5"/>
<line x1="1726.0" y1="1837.3" x2="1726.0" y2="1893" stroke-width="5.5"/>
<line x1="1703.0" y1="1837.3" x2="1749.0" y2="1837.3" stroke-width="7.5"/>
<line x1="1703.0" y1="1893" x2="1749.0" y2="1893" stroke-width="7.5"/>
</g>
<path d="M485.5,2708.5 L529.5,2708.5 L507.5,2754.0 Z M497.5,2716.0 L507.5,2736.6 L517.5,2716.0 Z" fill="#000" fill-rule="evenodd"/>
<path d="M494.7,2708.5 L538.7,2708.5 L516.7,2754.0 Z M506.7,2716.0 L516.7,2736.6 L526.7,2716.0 Z" fill="#000" fill-rule="evenodd"/>
<path d="M515.0,2706.5 L559.0,2706.5 L537.0,2752.0 Z M527.0,2714.0 L537.0,2734.6 L547.0,2714.0 Z" fill="#000" fill-rule="evenodd"/>
<path d="M605.3,2689.3 L649.3,2689.3 L627.3,2734.8 Z M617.3,2696.8 L627.3,2717.4 L637.3,2696.8 Z" fill="#000" fill-rule="evenodd"/>
<path d="M727.6,2669.3 L771.6,2669.3 L749.6,2714.8 Z M739.6,2676.8 L749.6,2697.4 L759.6,2676.8 Z" fill="#000" fill-rule="evenodd"/>
<path d="M972.8,2669.3 L1016.8,2669.3 L994.8,2714.8 Z M984.8,2676.8 L994.8,2697.4 L1004.8,2676.8 Z" fill="#000" fill-rule="evenodd"/>
<path d="M1216.7,2663.0 L1260.7,2663.0 L1238.7,2708.5 Z M1228.7,2670.5 L1238.7,2691.1 L1248.7,2670.5 Z" fill="#000" fill-rule="evenodd"/>
<path d="M1704.0,2654.5 L1748.0,2654.5 L1726.0,2700.0 Z M1716.0,2662.0 L1726.0,2682.6 L1736.0,2662.0 Z" fill="#000" fill-rule="evenodd"/>
<path d="M509.1,2641.5 L526.1,2670.5 L492.1,2670.5 Z" fill="#000"/>
<path d="M515.0,2599.5 L532.0,2628.5 L498.0,2628.5 Z" fill="#000"/>
<path d="M536.0,2449.5 L553.0,2478.5 L519.0,2478.5 Z" fill="#000"/>
<path d="M628.0,2197.1 L645.0,2226.1 L611.0,2226.1 Z" fill="#000"/>
<path d="M748.5,1983.2 L765.5,2012.2 L731.5,2012.2 Z" fill="#000"/>
<path d="M994.6,1902.3 L1011.6,1931.3 L977.6,1931.3 Z" fill="#000"/>
<path d="M1237.5,1885.5 L1254.5,1914.5 L1220.5,1914.5 Z" fill="#000"/>
<path d="M1726.0,1855.4 L1743.0,1884.4 L1709.0,1884.4 Z" fill="#000"/>
<line x1="822.5" y1="2253.5" x2="940" y2="2253.5" stroke="#ff0000" stroke-width="12"/>
<path d="M881.3,2239.0 L899.3,2271.0 L863.3,2271.0 Z" fill="#000"/>
<line x1="822.5" y1="2368.3" x2="940" y2="2368.3" stroke="#0000ff" stroke-width="12"/>
<path d="M859.3,2344.5 L903.3,2344.5 L881.3,2390.0 Z M871.3,2352.0 L881.3,2372.6 L891.3,2352.0 Z" fill="#000" fill-rule="evenodd"/>
<g font-family="Liberation Sans, Arial, sans-serif" fill="#000" stroke="#000" stroke-width="1.1">
<text x="987.5" y="2279" font-size="77">CPT, pH 7.4, 37ºC</text>
<text x="987.5" y="2390" font-size="76.5">DOX, pH 7.4, 37ºC</text>
</g>
<g font-family="Liberation Sans, Arial, sans-serif" fill="#000">
<text x="52.4" y="1731.6" font-size="112" stroke="#000" stroke-width="3.4">(B)</text>
<text transform="translate(1218.4,2991.3) scale(1,1.055)" font-size="101.6" font-weight="bold" text-anchor="middle">Time (h)</text>
<text transform="translate(233,2273.3) rotate(-90) scale(1,1.03)" font-size="101.7" font-weight="bold" text-anchor="middle">Drug Released (wt%)</text>
</g>
</svg>
</body></html>
